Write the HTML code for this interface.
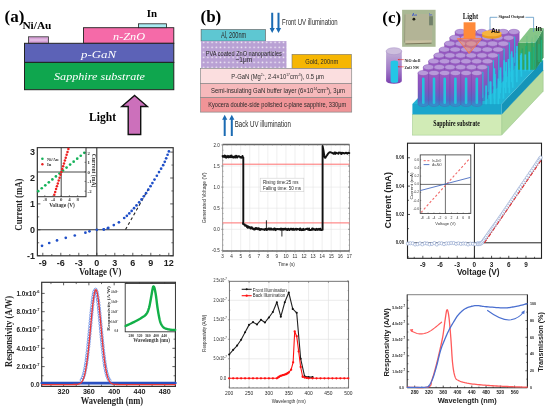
<!DOCTYPE html>
<html><head><meta charset="utf-8"><style>
html,body{margin:0;padding:0;background:#fff;}
svg{display:block;filter:blur(0.35px);}
</style></head><body>
<svg width="550" height="410" viewBox="0 0 550 410">
<rect width="550" height="410" fill="#fff"/>
<text x="4.5" y="22.1" font-family="Liberation Serif, serif" font-size="17" font-weight="bold" text-anchor="start" fill="#000">(a)</text><text x="22.4" y="29" font-family="Liberation Serif, serif" font-size="10" font-weight="bold" text-anchor="start" fill="#000" textLength="29" lengthAdjust="spacingAndGlyphs">Ni/Au</text><rect x="28.5" y="36.8" width="20" height="6.5" fill="#d8a2d8" stroke="#333" stroke-width="0.8"/><rect x="30" y="38.8" width="17" height="2.2" fill="#e2b8e2" stroke="none" stroke-width="1"/><rect x="83.5" y="27.7" width="90.3" height="15.6" fill="#f56aa8" stroke="#222" stroke-width="0.9"/><rect x="138.5" y="23.8" width="28" height="3.9" fill="#a9ecf2" stroke="#222" stroke-width="0.8"/><text x="146.8" y="16.6" font-family="Liberation Serif, serif" font-size="11" font-weight="bold" text-anchor="start" fill="#000" textLength="10.3" lengthAdjust="spacingAndGlyphs">In</text><rect x="24.5" y="43.3" width="149.3" height="19.1" fill="#5c62b7" stroke="#222" stroke-width="1"/><rect x="24.5" y="62.4" width="149.3" height="27.3" fill="#0fa64e" stroke="#222" stroke-width="1"/><text x="129" y="40" font-family="Liberation Serif, serif" font-size="11" font-style="italic" text-anchor="middle" fill="#fff" textLength="32" lengthAdjust="spacingAndGlyphs">n-ZnO</text><text x="98.5" y="57.5" font-family="Liberation Serif, serif" font-size="11" font-style="italic" text-anchor="middle" fill="#fff" textLength="35" lengthAdjust="spacingAndGlyphs">p-GaN</text><text x="99.5" y="80" font-family="Liberation Serif, serif" font-size="11" font-style="italic" text-anchor="middle" fill="#fff" textLength="91" lengthAdjust="spacingAndGlyphs">Sapphire substrate</text><polygon points="134.6,95.5 147.4,106.5 140.7,106.5 140.7,134.5 128.2,134.5 128.2,106.5 121.8,106.5" fill="#cc70bb" stroke="#111" stroke-width="1.4"/><text x="89" y="120.6" font-family="Liberation Serif, serif" font-size="12" font-weight="bold" text-anchor="start" fill="#000" textLength="27" lengthAdjust="spacingAndGlyphs">Light</text><rect x="37.4" y="147.7" width="135.79999999999998" height="108.10000000000002" fill="none" stroke="#333" stroke-width="1.2"/><line x1="37.40" y1="229.80" x2="173.20" y2="229.80" stroke="#333" stroke-width="1.1"/><line x1="96.80" y1="147.70" x2="96.80" y2="255.80" stroke="#333" stroke-width="1.1"/><line x1="42.80" y1="255.80" x2="42.80" y2="252.80" stroke="#333" stroke-width="0.8"/><line x1="60.80" y1="255.80" x2="60.80" y2="252.80" stroke="#333" stroke-width="0.8"/><line x1="78.80" y1="255.80" x2="78.80" y2="252.80" stroke="#333" stroke-width="0.8"/><line x1="96.80" y1="255.80" x2="96.80" y2="252.80" stroke="#333" stroke-width="0.8"/><line x1="114.80" y1="255.80" x2="114.80" y2="252.80" stroke="#333" stroke-width="0.8"/><line x1="132.80" y1="255.80" x2="132.80" y2="252.80" stroke="#333" stroke-width="0.8"/><line x1="150.80" y1="255.80" x2="150.80" y2="252.80" stroke="#333" stroke-width="0.8"/><line x1="168.80" y1="255.80" x2="168.80" y2="252.80" stroke="#333" stroke-width="0.8"/><line x1="51.80" y1="255.80" x2="51.80" y2="254.00" stroke="#333" stroke-width="0.7"/><line x1="69.80" y1="255.80" x2="69.80" y2="254.00" stroke="#333" stroke-width="0.7"/><line x1="87.80" y1="255.80" x2="87.80" y2="254.00" stroke="#333" stroke-width="0.7"/><line x1="105.80" y1="255.80" x2="105.80" y2="254.00" stroke="#333" stroke-width="0.7"/><line x1="123.80" y1="255.80" x2="123.80" y2="254.00" stroke="#333" stroke-width="0.7"/><line x1="141.80" y1="255.80" x2="141.80" y2="254.00" stroke="#333" stroke-width="0.7"/><line x1="159.80" y1="255.80" x2="159.80" y2="254.00" stroke="#333" stroke-width="0.7"/><line x1="37.40" y1="255.70" x2="40.40" y2="255.70" stroke="#333" stroke-width="0.8"/><line x1="173.20" y1="255.70" x2="170.20" y2="255.70" stroke="#333" stroke-width="0.8"/><line x1="37.40" y1="229.80" x2="40.40" y2="229.80" stroke="#333" stroke-width="0.8"/><line x1="173.20" y1="229.80" x2="170.20" y2="229.80" stroke="#333" stroke-width="0.8"/><line x1="37.40" y1="203.90" x2="40.40" y2="203.90" stroke="#333" stroke-width="0.8"/><line x1="173.20" y1="203.90" x2="170.20" y2="203.90" stroke="#333" stroke-width="0.8"/><line x1="37.40" y1="178.00" x2="40.40" y2="178.00" stroke="#333" stroke-width="0.8"/><line x1="173.20" y1="178.00" x2="170.20" y2="178.00" stroke="#333" stroke-width="0.8"/><line x1="37.40" y1="152.10" x2="40.40" y2="152.10" stroke="#333" stroke-width="0.8"/><line x1="173.20" y1="152.10" x2="170.20" y2="152.10" stroke="#333" stroke-width="0.8"/><line x1="37.40" y1="242.75" x2="39.20" y2="242.75" stroke="#333" stroke-width="0.7"/><line x1="173.20" y1="242.75" x2="171.40" y2="242.75" stroke="#333" stroke-width="0.7"/><line x1="37.40" y1="216.85" x2="39.20" y2="216.85" stroke="#333" stroke-width="0.7"/><line x1="173.20" y1="216.85" x2="171.40" y2="216.85" stroke="#333" stroke-width="0.7"/><line x1="37.40" y1="190.95" x2="39.20" y2="190.95" stroke="#333" stroke-width="0.7"/><line x1="173.20" y1="190.95" x2="171.40" y2="190.95" stroke="#333" stroke-width="0.7"/><line x1="37.40" y1="165.05" x2="39.20" y2="165.05" stroke="#333" stroke-width="0.7"/><line x1="173.20" y1="165.05" x2="171.40" y2="165.05" stroke="#333" stroke-width="0.7"/><text x="35" y="155.3" font-family="Liberation Sans, sans-serif" font-size="9" font-weight="bold" text-anchor="end" fill="#222">3</text><text x="35" y="181.2" font-family="Liberation Sans, sans-serif" font-size="9" font-weight="bold" text-anchor="end" fill="#222">2</text><text x="35" y="207.1" font-family="Liberation Sans, sans-serif" font-size="9" font-weight="bold" text-anchor="end" fill="#222">1</text><text x="35" y="233.0" font-family="Liberation Sans, sans-serif" font-size="9" font-weight="bold" text-anchor="end" fill="#222">0</text><text x="35" y="258.90000000000003" font-family="Liberation Sans, sans-serif" font-size="9" font-weight="bold" text-anchor="end" fill="#222">-1</text><text x="42.8" y="265.8" font-family="Liberation Sans, sans-serif" font-size="9" font-weight="bold" text-anchor="middle" fill="#222">-9</text><text x="60.8" y="265.8" font-family="Liberation Sans, sans-serif" font-size="9" font-weight="bold" text-anchor="middle" fill="#222">-6</text><text x="78.8" y="265.8" font-family="Liberation Sans, sans-serif" font-size="9" font-weight="bold" text-anchor="middle" fill="#222">-3</text><text x="96.8" y="265.8" font-family="Liberation Sans, sans-serif" font-size="9" font-weight="bold" text-anchor="middle" fill="#222">0</text><text x="114.8" y="265.8" font-family="Liberation Sans, sans-serif" font-size="9" font-weight="bold" text-anchor="middle" fill="#222">3</text><text x="132.8" y="265.8" font-family="Liberation Sans, sans-serif" font-size="9" font-weight="bold" text-anchor="middle" fill="#222">6</text><text x="150.8" y="265.8" font-family="Liberation Sans, sans-serif" font-size="9" font-weight="bold" text-anchor="middle" fill="#222">9</text><text x="168.8" y="265.8" font-family="Liberation Sans, sans-serif" font-size="9" font-weight="bold" text-anchor="middle" fill="#222">12</text><text x="100.2" y="275.3" font-family="Liberation Serif, serif" font-size="10" font-weight="bold" text-anchor="middle" fill="#222" textLength="42.4" lengthAdjust="spacingAndGlyphs">Voltage (V)</text><text x="22" y="204.6" font-family="Liberation Serif, serif" font-size="10.3" font-weight="bold" text-anchor="middle" fill="#222" textLength="52.2" lengthAdjust="spacingAndGlyphs" transform="rotate(-90 22 204.6)">Current (mA)</text><line x1="125.50" y1="229.60" x2="150.00" y2="186.20" stroke="#222" stroke-width="1.1" stroke-dasharray="3,2.5"/><circle cx="42.02" cy="245.86" r="1.35" fill="#1f4fc8" stroke="none" stroke-width="1"/><circle cx="49.22" cy="243.01" r="1.35" fill="#1f4fc8" stroke="none" stroke-width="1"/><circle cx="57.02" cy="240.42" r="1.35" fill="#1f4fc8" stroke="none" stroke-width="1"/><circle cx="65.78" cy="237.83" r="1.35" fill="#1f4fc8" stroke="none" stroke-width="1"/><circle cx="74.78" cy="235.50" r="1.35" fill="#1f4fc8" stroke="none" stroke-width="1"/><circle cx="85.40" cy="232.65" r="1.35" fill="#1f4fc8" stroke="none" stroke-width="1"/><circle cx="89.48" cy="231.35" r="1.35" fill="#1f4fc8" stroke="none" stroke-width="1"/><circle cx="96.80" cy="229.80" r="1.35" fill="#1f4fc8" stroke="none" stroke-width="1"/><circle cx="103.70" cy="229.28" r="1.35" fill="#1f4fc8" stroke="none" stroke-width="1"/><circle cx="107.90" cy="228.25" r="1.35" fill="#1f4fc8" stroke="none" stroke-width="1"/><circle cx="103.90" cy="229.50" r="1.35" fill="#1f4fc8" stroke="none" stroke-width="1"/><circle cx="108.20" cy="227.80" r="1.35" fill="#1f4fc8" stroke="none" stroke-width="1"/><circle cx="113.80" cy="225.10" r="1.35" fill="#1f4fc8" stroke="none" stroke-width="1"/><circle cx="118.90" cy="222.30" r="1.35" fill="#1f4fc8" stroke="none" stroke-width="1"/><circle cx="124.20" cy="218.00" r="1.35" fill="#1f4fc8" stroke="none" stroke-width="1"/><circle cx="126.85" cy="215.83" r="1.35" fill="#1f4fc8" stroke="none" stroke-width="1"/><circle cx="129.30" cy="213.44" r="1.35" fill="#1f4fc8" stroke="none" stroke-width="1"/><circle cx="131.65" cy="210.88" r="1.35" fill="#1f4fc8" stroke="none" stroke-width="1"/><circle cx="134.05" cy="208.18" r="1.35" fill="#1f4fc8" stroke="none" stroke-width="1"/><circle cx="136.50" cy="205.40" r="1.35" fill="#1f4fc8" stroke="none" stroke-width="1"/><circle cx="139.16" cy="202.31" r="1.35" fill="#1f4fc8" stroke="none" stroke-width="1"/><circle cx="141.54" cy="199.40" r="1.35" fill="#1f4fc8" stroke="none" stroke-width="1"/><circle cx="143.80" cy="196.36" r="1.35" fill="#1f4fc8" stroke="none" stroke-width="1"/><circle cx="146.05" cy="193.13" r="1.35" fill="#1f4fc8" stroke="none" stroke-width="1"/><circle cx="148.30" cy="189.72" r="1.35" fill="#1f4fc8" stroke="none" stroke-width="1"/><circle cx="150.53" cy="186.18" r="1.35" fill="#1f4fc8" stroke="none" stroke-width="1"/><circle cx="152.40" cy="183.11" r="1.35" fill="#1f4fc8" stroke="none" stroke-width="1"/><circle cx="154.52" cy="179.62" r="1.35" fill="#1f4fc8" stroke="none" stroke-width="1"/><circle cx="156.85" cy="175.75" r="1.35" fill="#1f4fc8" stroke="none" stroke-width="1"/><circle cx="159.02" cy="172.10" r="1.35" fill="#1f4fc8" stroke="none" stroke-width="1"/><circle cx="161.11" cy="168.69" r="1.35" fill="#1f4fc8" stroke="none" stroke-width="1"/><circle cx="163.16" cy="165.20" r="1.35" fill="#1f4fc8" stroke="none" stroke-width="1"/><circle cx="164.76" cy="161.78" r="1.35" fill="#1f4fc8" stroke="none" stroke-width="1"/><circle cx="166.19" cy="158.29" r="1.35" fill="#1f4fc8" stroke="none" stroke-width="1"/><circle cx="167.58" cy="154.76" r="1.35" fill="#1f4fc8" stroke="none" stroke-width="1"/><circle cx="168.90" cy="151.40" r="1.35" fill="#1f4fc8" stroke="none" stroke-width="1"/><rect x="37.4" y="147.7" width="48.6" height="49.0" fill="#fff" stroke="#333" stroke-width="1"/><line x1="37.40" y1="172.00" x2="86.00" y2="172.00" stroke="#333" stroke-width="0.9"/><line x1="61.20" y1="147.70" x2="61.20" y2="196.70" stroke="#333" stroke-width="0.9"/><circle cx="38.20" cy="191.20" r="1.35" fill="#16b25a" stroke="none" stroke-width="1"/><circle cx="41.75" cy="188.25" r="1.35" fill="#16b25a" stroke="none" stroke-width="1"/><circle cx="45.29" cy="185.29" r="1.35" fill="#16b25a" stroke="none" stroke-width="1"/><circle cx="48.84" cy="182.34" r="1.35" fill="#16b25a" stroke="none" stroke-width="1"/><circle cx="52.38" cy="179.38" r="1.35" fill="#16b25a" stroke="none" stroke-width="1"/><circle cx="55.93" cy="176.43" r="1.35" fill="#16b25a" stroke="none" stroke-width="1"/><circle cx="59.48" cy="173.48" r="1.35" fill="#16b25a" stroke="none" stroke-width="1"/><circle cx="63.02" cy="170.52" r="1.35" fill="#16b25a" stroke="none" stroke-width="1"/><circle cx="66.57" cy="167.57" r="1.35" fill="#16b25a" stroke="none" stroke-width="1"/><circle cx="70.12" cy="164.62" r="1.35" fill="#16b25a" stroke="none" stroke-width="1"/><circle cx="73.66" cy="161.66" r="1.35" fill="#16b25a" stroke="none" stroke-width="1"/><circle cx="77.21" cy="158.71" r="1.35" fill="#16b25a" stroke="none" stroke-width="1"/><circle cx="80.75" cy="155.75" r="1.35" fill="#16b25a" stroke="none" stroke-width="1"/><circle cx="84.30" cy="152.80" r="1.35" fill="#16b25a" stroke="none" stroke-width="1"/><circle cx="54.30" cy="194.80" r="1.25" fill="#ee2020" stroke="none" stroke-width="1"/><circle cx="55.18" cy="191.94" r="1.25" fill="#ee2020" stroke="none" stroke-width="1"/><circle cx="56.06" cy="189.09" r="1.25" fill="#ee2020" stroke="none" stroke-width="1"/><circle cx="56.94" cy="186.23" r="1.25" fill="#ee2020" stroke="none" stroke-width="1"/><circle cx="57.83" cy="183.38" r="1.25" fill="#ee2020" stroke="none" stroke-width="1"/><circle cx="58.71" cy="180.52" r="1.25" fill="#ee2020" stroke="none" stroke-width="1"/><circle cx="59.59" cy="177.66" r="1.25" fill="#ee2020" stroke="none" stroke-width="1"/><circle cx="60.47" cy="174.81" r="1.25" fill="#ee2020" stroke="none" stroke-width="1"/><circle cx="61.35" cy="171.95" r="1.25" fill="#ee2020" stroke="none" stroke-width="1"/><circle cx="62.23" cy="169.09" r="1.25" fill="#ee2020" stroke="none" stroke-width="1"/><circle cx="63.11" cy="166.24" r="1.25" fill="#ee2020" stroke="none" stroke-width="1"/><circle cx="63.99" cy="163.38" r="1.25" fill="#ee2020" stroke="none" stroke-width="1"/><circle cx="64.88" cy="160.53" r="1.25" fill="#ee2020" stroke="none" stroke-width="1"/><circle cx="65.76" cy="157.67" r="1.25" fill="#ee2020" stroke="none" stroke-width="1"/><circle cx="66.64" cy="154.81" r="1.25" fill="#ee2020" stroke="none" stroke-width="1"/><circle cx="67.52" cy="151.96" r="1.25" fill="#ee2020" stroke="none" stroke-width="1"/><circle cx="68.40" cy="149.10" r="1.25" fill="#ee2020" stroke="none" stroke-width="1"/><circle cx="42.40" cy="158.80" r="1.3" fill="#16b25a" stroke="none" stroke-width="1"/><circle cx="42.40" cy="164.30" r="1.2" fill="#e82222" stroke="none" stroke-width="1"/><text x="47" y="160.5" font-family="Liberation Serif, serif" font-size="4.5" font-weight="bold" text-anchor="start" fill="#333">Ni/Au</text><text x="47" y="166" font-family="Liberation Serif, serif" font-size="4.5" font-weight="bold" text-anchor="start" fill="#333">In</text><text x="87.6" y="154.5" font-family="Liberation Serif, serif" font-size="4.8" font-weight="bold" text-anchor="start" fill="#333">2</text><line x1="86.00" y1="152.80" x2="84.50" y2="152.80" stroke="#333" stroke-width="0.6"/><text x="87.6" y="164.0" font-family="Liberation Serif, serif" font-size="4.8" font-weight="bold" text-anchor="start" fill="#333">1</text><line x1="86.00" y1="162.30" x2="84.50" y2="162.30" stroke="#333" stroke-width="0.6"/><text x="87.6" y="173.6" font-family="Liberation Serif, serif" font-size="4.8" font-weight="bold" text-anchor="start" fill="#333">0</text><line x1="86.00" y1="171.90" x2="84.50" y2="171.90" stroke="#333" stroke-width="0.6"/><text x="87.6" y="183.1" font-family="Liberation Serif, serif" font-size="4.8" font-weight="bold" text-anchor="start" fill="#333">-1</text><line x1="86.00" y1="181.40" x2="84.50" y2="181.40" stroke="#333" stroke-width="0.6"/><text x="87.6" y="192.89999999999998" font-family="Liberation Serif, serif" font-size="4.8" font-weight="bold" text-anchor="start" fill="#333">-2</text><line x1="86.00" y1="191.20" x2="84.50" y2="191.20" stroke="#333" stroke-width="0.6"/><text x="44.8" y="201" font-family="Liberation Serif, serif" font-size="4.8" font-weight="bold" text-anchor="middle" fill="#333">-8</text><line x1="44.80" y1="196.70" x2="44.80" y2="195.20" stroke="#333" stroke-width="0.6"/><text x="53" y="201" font-family="Liberation Serif, serif" font-size="4.8" font-weight="bold" text-anchor="middle" fill="#333">-4</text><line x1="53.00" y1="196.70" x2="53.00" y2="195.20" stroke="#333" stroke-width="0.6"/><text x="61.2" y="201" font-family="Liberation Serif, serif" font-size="4.8" font-weight="bold" text-anchor="middle" fill="#333">0</text><line x1="61.20" y1="196.70" x2="61.20" y2="195.20" stroke="#333" stroke-width="0.6"/><text x="69.4" y="201" font-family="Liberation Serif, serif" font-size="4.8" font-weight="bold" text-anchor="middle" fill="#333">4</text><line x1="69.40" y1="196.70" x2="69.40" y2="195.20" stroke="#333" stroke-width="0.6"/><text x="77.6" y="201" font-family="Liberation Serif, serif" font-size="4.8" font-weight="bold" text-anchor="middle" fill="#333">8</text><line x1="77.60" y1="196.70" x2="77.60" y2="195.20" stroke="#333" stroke-width="0.6"/><text x="62" y="207.4" font-family="Liberation Serif, serif" font-size="6" font-weight="bold" text-anchor="middle" fill="#333" textLength="25.6" lengthAdjust="spacingAndGlyphs">Voltage (V)</text><text x="91.6" y="170.6" font-family="Liberation Serif, serif" font-size="5.6" font-weight="bold" text-anchor="middle" fill="#333" textLength="33.5" lengthAdjust="spacingAndGlyphs" transform="rotate(90 91.6 170.6)">Current (mA)</text><rect x="41.7" y="282.3" width="133.7" height="104.09999999999997" fill="none" stroke="#333" stroke-width="1.2"/><line x1="63.60" y1="386.40" x2="63.60" y2="383.40" stroke="#333" stroke-width="0.8"/><line x1="63.60" y1="282.30" x2="63.60" y2="285.30" stroke="#333" stroke-width="0.8"/><line x1="88.88" y1="386.40" x2="88.88" y2="383.40" stroke="#333" stroke-width="0.8"/><line x1="88.88" y1="282.30" x2="88.88" y2="285.30" stroke="#333" stroke-width="0.8"/><line x1="114.16" y1="386.40" x2="114.16" y2="383.40" stroke="#333" stroke-width="0.8"/><line x1="114.16" y1="282.30" x2="114.16" y2="285.30" stroke="#333" stroke-width="0.8"/><line x1="139.44" y1="386.40" x2="139.44" y2="383.40" stroke="#333" stroke-width="0.8"/><line x1="139.44" y1="282.30" x2="139.44" y2="285.30" stroke="#333" stroke-width="0.8"/><line x1="164.72" y1="386.40" x2="164.72" y2="383.40" stroke="#333" stroke-width="0.8"/><line x1="164.72" y1="282.30" x2="164.72" y2="285.30" stroke="#333" stroke-width="0.8"/><line x1="50.96" y1="386.40" x2="50.96" y2="384.60" stroke="#333" stroke-width="0.7"/><line x1="50.96" y1="282.30" x2="50.96" y2="284.10" stroke="#333" stroke-width="0.7"/><line x1="76.24" y1="386.40" x2="76.24" y2="384.60" stroke="#333" stroke-width="0.7"/><line x1="76.24" y1="282.30" x2="76.24" y2="284.10" stroke="#333" stroke-width="0.7"/><line x1="101.52" y1="386.40" x2="101.52" y2="384.60" stroke="#333" stroke-width="0.7"/><line x1="101.52" y1="282.30" x2="101.52" y2="284.10" stroke="#333" stroke-width="0.7"/><line x1="126.80" y1="386.40" x2="126.80" y2="384.60" stroke="#333" stroke-width="0.7"/><line x1="126.80" y1="282.30" x2="126.80" y2="284.10" stroke="#333" stroke-width="0.7"/><line x1="152.08" y1="386.40" x2="152.08" y2="384.60" stroke="#333" stroke-width="0.7"/><line x1="152.08" y1="282.30" x2="152.08" y2="284.10" stroke="#333" stroke-width="0.7"/><text x="63.6" y="394.1" font-family="Liberation Sans, sans-serif" font-size="7.2" font-weight="bold" text-anchor="middle" fill="#222">320</text><text x="88.88" y="394.1" font-family="Liberation Sans, sans-serif" font-size="7.2" font-weight="bold" text-anchor="middle" fill="#222">360</text><text x="114.16" y="394.1" font-family="Liberation Sans, sans-serif" font-size="7.2" font-weight="bold" text-anchor="middle" fill="#222">400</text><text x="139.44" y="394.1" font-family="Liberation Sans, sans-serif" font-size="7.2" font-weight="bold" text-anchor="middle" fill="#222">440</text><text x="164.72" y="394.1" font-family="Liberation Sans, sans-serif" font-size="7.2" font-weight="bold" text-anchor="middle" fill="#222">480</text><text x="39.5" y="295.7" font-family="Liberation Sans, sans-serif" font-size="6.4" font-weight="bold" text-anchor="end" fill="#222">1.0x10<tspan font-size="4" dy="-3">-6</tspan></text><line x1="41.70" y1="293.40" x2="44.70" y2="293.40" stroke="#333" stroke-width="0.8"/><line x1="175.40" y1="293.40" x2="172.40" y2="293.40" stroke="#333" stroke-width="0.8"/><line x1="41.70" y1="302.55" x2="43.50" y2="302.55" stroke="#333" stroke-width="0.7"/><line x1="175.40" y1="302.55" x2="173.60" y2="302.55" stroke="#333" stroke-width="0.7"/><text x="39.5" y="314.0" font-family="Liberation Sans, sans-serif" font-size="6.4" font-weight="bold" text-anchor="end" fill="#222">8.0x10<tspan font-size="4" dy="-3">-7</tspan></text><line x1="41.70" y1="311.70" x2="44.70" y2="311.70" stroke="#333" stroke-width="0.8"/><line x1="175.40" y1="311.70" x2="172.40" y2="311.70" stroke="#333" stroke-width="0.8"/><line x1="41.70" y1="320.85" x2="43.50" y2="320.85" stroke="#333" stroke-width="0.7"/><line x1="175.40" y1="320.85" x2="173.60" y2="320.85" stroke="#333" stroke-width="0.7"/><text x="39.5" y="332.3" font-family="Liberation Sans, sans-serif" font-size="6.4" font-weight="bold" text-anchor="end" fill="#222">6.0x10<tspan font-size="4" dy="-3">-7</tspan></text><line x1="41.70" y1="330.00" x2="44.70" y2="330.00" stroke="#333" stroke-width="0.8"/><line x1="175.40" y1="330.00" x2="172.40" y2="330.00" stroke="#333" stroke-width="0.8"/><line x1="41.70" y1="339.15" x2="43.50" y2="339.15" stroke="#333" stroke-width="0.7"/><line x1="175.40" y1="339.15" x2="173.60" y2="339.15" stroke="#333" stroke-width="0.7"/><text x="39.5" y="350.59999999999997" font-family="Liberation Sans, sans-serif" font-size="6.4" font-weight="bold" text-anchor="end" fill="#222">4.0x10<tspan font-size="4" dy="-3">-7</tspan></text><line x1="41.70" y1="348.30" x2="44.70" y2="348.30" stroke="#333" stroke-width="0.8"/><line x1="175.40" y1="348.30" x2="172.40" y2="348.30" stroke="#333" stroke-width="0.8"/><line x1="41.70" y1="357.45" x2="43.50" y2="357.45" stroke="#333" stroke-width="0.7"/><line x1="175.40" y1="357.45" x2="173.60" y2="357.45" stroke="#333" stroke-width="0.7"/><text x="39.5" y="368.9" font-family="Liberation Sans, sans-serif" font-size="6.4" font-weight="bold" text-anchor="end" fill="#222">2.0x10<tspan font-size="4" dy="-3">-7</tspan></text><line x1="41.70" y1="366.60" x2="44.70" y2="366.60" stroke="#333" stroke-width="0.8"/><line x1="175.40" y1="366.60" x2="172.40" y2="366.60" stroke="#333" stroke-width="0.8"/><line x1="41.70" y1="375.75" x2="43.50" y2="375.75" stroke="#333" stroke-width="0.7"/><line x1="175.40" y1="375.75" x2="173.60" y2="375.75" stroke="#333" stroke-width="0.7"/><text x="39.5" y="387.29999999999995" font-family="Liberation Sans, sans-serif" font-size="6.4" font-weight="bold" text-anchor="end" fill="#222">0.0</text><text x="111.9" y="404.3" font-family="Liberation Serif, serif" font-size="10" font-weight="bold" text-anchor="middle" fill="#222" textLength="62.5" lengthAdjust="spacingAndGlyphs">Wavelength (nm)</text><text x="12.3" y="331.4" font-family="Liberation Serif, serif" font-size="11" font-weight="bold" text-anchor="middle" fill="#222" textLength="71" lengthAdjust="spacingAndGlyphs" transform="rotate(-90 12.3 331.4)">Responsivity (A/W)</text><polyline points="41.70,383.10 175.40,383.10" fill="none" stroke="#2a50c0" stroke-width="2.6" stroke-linejoin="round" stroke-linecap="round"/><circle cx="81.74" cy="380.01" r="1.6" fill="none" stroke="#5a80e0" stroke-width="0.75"/><circle cx="82.88" cy="377.80" r="1.6" fill="none" stroke="#5a80e0" stroke-width="0.75"/><circle cx="83.70" cy="375.49" r="1.6" fill="none" stroke="#5a80e0" stroke-width="0.75"/><circle cx="84.39" cy="372.96" r="1.6" fill="none" stroke="#5a80e0" stroke-width="0.75"/><circle cx="84.96" cy="370.44" r="1.6" fill="none" stroke="#5a80e0" stroke-width="0.75"/><circle cx="85.47" cy="367.82" r="1.6" fill="none" stroke="#5a80e0" stroke-width="0.75"/><circle cx="85.91" cy="365.23" r="1.6" fill="none" stroke="#5a80e0" stroke-width="0.75"/><circle cx="86.29" cy="362.78" r="1.6" fill="none" stroke="#5a80e0" stroke-width="0.75"/><circle cx="86.67" cy="360.11" r="1.6" fill="none" stroke="#5a80e0" stroke-width="0.75"/><circle cx="86.98" cy="357.72" r="1.6" fill="none" stroke="#5a80e0" stroke-width="0.75"/><circle cx="87.30" cy="355.18" r="1.6" fill="none" stroke="#5a80e0" stroke-width="0.75"/><circle cx="87.62" cy="352.50" r="1.6" fill="none" stroke="#5a80e0" stroke-width="0.75"/><circle cx="87.93" cy="349.68" r="1.6" fill="none" stroke="#5a80e0" stroke-width="0.75"/><circle cx="88.25" cy="346.73" r="1.6" fill="none" stroke="#5a80e0" stroke-width="0.75"/><circle cx="88.50" cy="344.29" r="1.6" fill="none" stroke="#5a80e0" stroke-width="0.75"/><circle cx="88.75" cy="341.78" r="1.6" fill="none" stroke="#5a80e0" stroke-width="0.75"/><circle cx="89.01" cy="339.21" r="1.6" fill="none" stroke="#5a80e0" stroke-width="0.75"/><circle cx="89.26" cy="336.59" r="1.6" fill="none" stroke="#5a80e0" stroke-width="0.75"/><circle cx="89.51" cy="333.92" r="1.6" fill="none" stroke="#5a80e0" stroke-width="0.75"/><circle cx="89.76" cy="331.23" r="1.6" fill="none" stroke="#5a80e0" stroke-width="0.75"/><circle cx="90.02" cy="328.51" r="1.6" fill="none" stroke="#5a80e0" stroke-width="0.75"/><circle cx="90.27" cy="325.78" r="1.6" fill="none" stroke="#5a80e0" stroke-width="0.75"/><circle cx="90.52" cy="323.06" r="1.6" fill="none" stroke="#5a80e0" stroke-width="0.75"/><circle cx="90.78" cy="320.35" r="1.6" fill="none" stroke="#5a80e0" stroke-width="0.75"/><circle cx="91.03" cy="317.67" r="1.6" fill="none" stroke="#5a80e0" stroke-width="0.75"/><circle cx="91.28" cy="315.04" r="1.6" fill="none" stroke="#5a80e0" stroke-width="0.75"/><circle cx="91.53" cy="312.46" r="1.6" fill="none" stroke="#5a80e0" stroke-width="0.75"/><circle cx="91.79" cy="309.96" r="1.6" fill="none" stroke="#5a80e0" stroke-width="0.75"/><circle cx="92.04" cy="307.54" r="1.6" fill="none" stroke="#5a80e0" stroke-width="0.75"/><circle cx="92.36" cy="304.67" r="1.6" fill="none" stroke="#5a80e0" stroke-width="0.75"/><circle cx="92.67" cy="301.97" r="1.6" fill="none" stroke="#5a80e0" stroke-width="0.75"/><circle cx="92.99" cy="299.49" r="1.6" fill="none" stroke="#5a80e0" stroke-width="0.75"/><circle cx="93.37" cy="296.83" r="1.6" fill="none" stroke="#5a80e0" stroke-width="0.75"/><circle cx="93.81" cy="294.21" r="1.6" fill="none" stroke="#5a80e0" stroke-width="0.75"/><circle cx="94.38" cy="291.68" r="1.6" fill="none" stroke="#5a80e0" stroke-width="0.75"/><circle cx="95.58" cy="289.77" r="1.6" fill="none" stroke="#5a80e0" stroke-width="0.75"/><circle cx="96.59" cy="291.91" r="1.6" fill="none" stroke="#5a80e0" stroke-width="0.75"/><circle cx="97.16" cy="294.55" r="1.6" fill="none" stroke="#5a80e0" stroke-width="0.75"/><circle cx="97.60" cy="297.25" r="1.6" fill="none" stroke="#5a80e0" stroke-width="0.75"/><circle cx="97.98" cy="299.97" r="1.6" fill="none" stroke="#5a80e0" stroke-width="0.75"/><circle cx="98.30" cy="302.50" r="1.6" fill="none" stroke="#5a80e0" stroke-width="0.75"/><circle cx="98.61" cy="305.23" r="1.6" fill="none" stroke="#5a80e0" stroke-width="0.75"/><circle cx="98.93" cy="308.14" r="1.6" fill="none" stroke="#5a80e0" stroke-width="0.75"/><circle cx="99.18" cy="310.58" r="1.6" fill="none" stroke="#5a80e0" stroke-width="0.75"/><circle cx="99.43" cy="313.10" r="1.6" fill="none" stroke="#5a80e0" stroke-width="0.75"/><circle cx="99.69" cy="315.69" r="1.6" fill="none" stroke="#5a80e0" stroke-width="0.75"/><circle cx="99.94" cy="318.34" r="1.6" fill="none" stroke="#5a80e0" stroke-width="0.75"/><circle cx="100.19" cy="321.02" r="1.6" fill="none" stroke="#5a80e0" stroke-width="0.75"/><circle cx="100.45" cy="323.74" r="1.6" fill="none" stroke="#5a80e0" stroke-width="0.75"/><circle cx="100.70" cy="326.46" r="1.6" fill="none" stroke="#5a80e0" stroke-width="0.75"/><circle cx="100.95" cy="329.19" r="1.6" fill="none" stroke="#5a80e0" stroke-width="0.75"/><circle cx="101.20" cy="331.90" r="1.6" fill="none" stroke="#5a80e0" stroke-width="0.75"/><circle cx="101.46" cy="334.59" r="1.6" fill="none" stroke="#5a80e0" stroke-width="0.75"/><circle cx="101.71" cy="337.25" r="1.6" fill="none" stroke="#5a80e0" stroke-width="0.75"/><circle cx="101.96" cy="339.86" r="1.6" fill="none" stroke="#5a80e0" stroke-width="0.75"/><circle cx="102.22" cy="342.41" r="1.6" fill="none" stroke="#5a80e0" stroke-width="0.75"/><circle cx="102.47" cy="344.91" r="1.6" fill="none" stroke="#5a80e0" stroke-width="0.75"/><circle cx="102.72" cy="347.33" r="1.6" fill="none" stroke="#5a80e0" stroke-width="0.75"/><circle cx="103.04" cy="350.25" r="1.6" fill="none" stroke="#5a80e0" stroke-width="0.75"/><circle cx="103.35" cy="353.04" r="1.6" fill="none" stroke="#5a80e0" stroke-width="0.75"/><circle cx="103.67" cy="355.70" r="1.6" fill="none" stroke="#5a80e0" stroke-width="0.75"/><circle cx="103.98" cy="358.21" r="1.6" fill="none" stroke="#5a80e0" stroke-width="0.75"/><circle cx="104.36" cy="361.02" r="1.6" fill="none" stroke="#5a80e0" stroke-width="0.75"/><circle cx="104.74" cy="363.62" r="1.6" fill="none" stroke="#5a80e0" stroke-width="0.75"/><circle cx="105.12" cy="366.00" r="1.6" fill="none" stroke="#5a80e0" stroke-width="0.75"/><circle cx="105.56" cy="368.51" r="1.6" fill="none" stroke="#5a80e0" stroke-width="0.75"/><circle cx="106.07" cy="371.04" r="1.6" fill="none" stroke="#5a80e0" stroke-width="0.75"/><circle cx="106.64" cy="373.46" r="1.6" fill="none" stroke="#5a80e0" stroke-width="0.75"/><circle cx="107.33" cy="375.89" r="1.6" fill="none" stroke="#5a80e0" stroke-width="0.75"/><circle cx="108.22" cy="378.24" r="1.6" fill="none" stroke="#5a80e0" stroke-width="0.75"/><circle cx="109.42" cy="380.38" r="1.6" fill="none" stroke="#5a80e0" stroke-width="0.75"/><polyline points="42.11,384.53 42.43,384.53 42.74,384.53 43.06,384.53 43.38,384.53 43.69,384.53 44.01,384.53 44.32,384.53 44.64,384.53 44.96,384.53 45.27,384.53 45.59,384.53 45.90,384.53 46.22,384.53 46.54,384.53 46.85,384.53 47.17,384.53 47.48,384.53 47.80,384.53 48.12,384.53 48.43,384.53 48.75,384.53 49.06,384.53 49.38,384.53 49.70,384.53 50.01,384.53 50.33,384.53 50.64,384.53 50.96,384.53 51.28,384.53 51.59,384.53 51.91,384.53 52.22,384.53 52.54,384.53 52.86,384.53 53.17,384.53 53.49,384.53 53.80,384.53 54.12,384.53 54.44,384.53 54.75,384.53 55.07,384.53 55.38,384.53 55.70,384.53 56.02,384.53 56.33,384.53 56.65,384.53 56.96,384.53 57.28,384.53 57.60,384.53 57.91,384.53 58.23,384.53 58.54,384.53 58.86,384.53 59.18,384.53 59.49,384.53 59.81,384.53 60.12,384.53 60.44,384.53 60.76,384.53 61.07,384.53 61.39,384.53 61.70,384.53 62.02,384.53 62.34,384.53 62.65,384.53 62.97,384.53 63.28,384.53 63.60,384.53 63.92,384.53 64.23,384.53 64.55,384.53 64.86,384.53 65.18,384.53 65.50,384.53 65.81,384.53 66.13,384.53 66.44,384.53 66.76,384.53 67.08,384.53 67.39,384.53 67.71,384.53 68.02,384.53 68.34,384.53 68.66,384.53 68.97,384.53 69.29,384.53 69.60,384.53 69.92,384.53 70.24,384.53 70.55,384.53 70.87,384.53 71.18,384.53 71.50,384.53 71.82,384.53 72.13,384.53 72.45,384.53 72.76,384.53 73.08,384.53 73.40,384.52 73.71,384.52 74.03,384.52 74.34,384.51 74.66,384.51 74.98,384.50 75.29,384.49 75.61,384.48 75.92,384.46 76.24,384.45 76.56,384.42 76.87,384.40 77.19,384.36 77.50,384.32 77.82,384.27 78.14,384.21 78.45,384.14 78.77,384.06 79.08,383.95 79.40,383.83 79.72,383.69 80.03,383.52 80.35,383.32 80.66,383.08 80.98,382.81 81.30,382.50 81.61,382.13 81.93,381.71 82.24,381.22 82.56,380.67 82.88,380.05 83.19,379.33 83.51,378.53 83.82,377.63 84.14,376.63 84.46,375.51 84.77,374.27 85.09,372.90 85.40,371.39 85.72,369.75 86.04,367.96 86.35,366.02 86.67,363.93 86.98,361.68 87.30,359.28 87.62,356.73 87.93,354.04 88.25,351.20 88.56,348.23 88.88,345.14 89.20,341.95 89.51,338.66 89.83,335.30 90.14,331.88 90.46,328.42 90.78,324.96 91.09,321.51 91.41,318.11 91.72,314.77 92.04,311.54 92.36,308.43 92.67,305.47 92.99,302.70 93.30,300.13 93.62,297.80 93.94,295.73 94.25,293.94 94.57,292.45 94.88,291.28 95.20,290.43 95.52,289.91 95.83,289.74 96.15,289.91 96.46,290.43 96.78,291.28 97.10,292.45 97.41,293.94 97.73,295.73 98.04,297.80 98.36,300.13 98.68,302.70 98.99,305.47 99.31,308.43 99.62,311.54 99.94,314.77 100.26,318.11 100.57,321.51 100.89,324.96 101.20,328.42 101.52,331.88 101.84,335.30 102.15,338.66 102.47,341.95 102.78,345.14 103.10,348.23 103.42,351.20 103.73,354.04 104.05,356.73 104.36,359.28 104.68,361.68 105.00,363.93 105.31,366.02 105.63,367.96 105.94,369.75 106.26,371.39 106.58,372.90 106.89,374.27 107.21,375.51 107.52,376.63 107.84,377.63 108.16,378.53 108.47,379.33 108.79,380.05 109.10,380.67 109.42,381.22 109.74,381.71 110.05,382.13 110.37,382.50 110.68,382.81 111.00,383.08 111.32,383.32 111.63,383.52 111.95,383.69 112.26,383.83 112.58,383.95 112.90,384.06 113.21,384.14 113.53,384.21 113.84,384.27 114.16,384.32 114.48,384.36 114.79,384.40 115.11,384.42 115.42,384.45 115.74,384.46 116.06,384.48 116.37,384.49 116.69,384.50 117.00,384.51 117.32,384.51 117.64,384.52 117.95,384.52 118.27,384.52 118.58,384.53 118.90,384.53 119.22,384.53 119.53,384.53 119.85,384.53 120.16,384.53 120.48,384.53 120.80,384.53 121.11,384.53 121.43,384.53 121.74,384.53 122.06,384.53 122.38,384.53 122.69,384.53 123.01,384.53 123.32,384.53 123.64,384.53 123.96,384.53 124.27,384.53 124.59,384.53 124.90,384.53 125.22,384.53 125.54,384.53 125.85,384.53 126.17,384.53 126.48,384.53 126.80,384.53 127.12,384.53 127.43,384.53 127.75,384.53 128.06,384.53 128.38,384.53 128.70,384.53 129.01,384.53 129.33,384.53 129.64,384.53 129.96,384.53 130.28,384.53 130.59,384.53 130.91,384.53 131.22,384.53 131.54,384.53 131.86,384.53 132.17,384.53 132.49,384.53 132.80,384.53 133.12,384.53 133.44,384.53 133.75,384.53 134.07,384.53 134.38,384.53 134.70,384.53 135.02,384.53 135.33,384.53 135.65,384.53 135.96,384.53 136.28,384.53 136.60,384.53 136.91,384.53 137.23,384.53 137.54,384.53 137.86,384.53 138.18,384.53 138.49,384.53 138.81,384.53 139.12,384.53 139.44,384.53 139.76,384.53 140.07,384.53 140.39,384.53 140.70,384.53 141.02,384.53 141.34,384.53 141.65,384.53 141.97,384.53 142.28,384.53 142.60,384.53 142.92,384.53 143.23,384.53 143.55,384.53 143.86,384.53 144.18,384.53 144.50,384.53 144.81,384.53 145.13,384.53 145.44,384.53 145.76,384.53 146.08,384.53 146.39,384.53 146.71,384.53 147.02,384.53 147.34,384.53 147.66,384.53 147.97,384.53 148.29,384.53 148.60,384.53 148.92,384.53 149.24,384.53 149.55,384.53 149.87,384.53 150.18,384.53 150.50,384.53 150.82,384.53 151.13,384.53 151.45,384.53 151.76,384.53 152.08,384.53 152.40,384.53 152.71,384.53 153.03,384.53 153.34,384.53 153.66,384.53 153.98,384.53 154.29,384.53 154.61,384.53 154.92,384.53 155.24,384.53 155.56,384.53 155.87,384.53 156.19,384.53 156.50,384.53 156.82,384.53 157.14,384.53 157.45,384.53 157.77,384.53 158.08,384.53 158.40,384.53 158.72,384.53 159.03,384.53 159.35,384.53 159.66,384.53 159.98,384.53 160.30,384.53 160.61,384.53 160.93,384.53 161.24,384.53 161.56,384.53 161.88,384.53 162.19,384.53 162.51,384.53 162.82,384.53 163.14,384.53 163.46,384.53 163.77,384.53 164.09,384.53 164.40,384.53 164.72,384.53 165.04,384.53 165.35,384.53 165.67,384.53 165.98,384.53 166.30,384.53 166.62,384.53 166.93,384.53 167.25,384.53 167.56,384.53 167.88,384.53 168.20,384.53 168.51,384.53 168.83,384.53 169.14,384.53 169.46,384.53 169.78,384.53 170.09,384.53 170.41,384.53 170.72,384.53 171.04,384.53 171.36,384.53 171.67,384.53 171.99,384.53 172.30,384.53 172.62,384.53 172.94,384.53 173.25,384.53 173.57,384.53 173.88,384.53 174.20,384.53 174.52,384.53 174.83,384.53 175.15,384.53 175.46,384.53" fill="none" stroke="#ee3a3a" stroke-width="1.3" stroke-linejoin="round" stroke-linecap="round"/><rect x="125.2" y="283.5" width="50.2" height="48.30000000000001" fill="#fff" stroke="#333" stroke-width="0.9"/><polyline points="125.60,326.00 126.34,325.65 127.35,325.18 128.54,324.62 129.86,324.00 131.24,323.35 132.60,322.70 133.88,322.07 135.00,321.50 136.01,320.97 136.98,320.45 137.92,319.94 138.82,319.43 139.68,318.93 140.50,318.45 141.27,317.97 142.00,317.50 142.68,317.06 143.30,316.67 143.88,316.30 144.42,315.93 144.92,315.55 145.40,315.13 145.86,314.65 146.30,314.10 146.72,313.49 147.10,312.86 147.46,312.18 147.79,311.46 148.11,310.69 148.41,309.86 148.71,308.97 149.00,308.00 149.29,306.93 149.56,305.74 149.82,304.47 150.07,303.15 150.32,301.81 150.55,300.49 150.78,299.20 151.00,298.00 151.22,296.83 151.42,295.64 151.63,294.46 151.82,293.31 152.00,292.22 152.18,291.20 152.34,290.29 152.50,289.50 152.64,288.83 152.76,288.25 152.87,287.75 152.97,287.34 153.07,287.02 153.17,286.77 153.28,286.60 153.40,286.50 153.53,286.47 153.67,286.52 153.82,286.64 153.97,286.84 154.12,287.13 154.28,287.50 154.44,287.95 154.60,288.50 154.77,289.15 154.94,289.91 155.11,290.76 155.29,291.69 155.47,292.69 155.65,293.75 155.82,294.86 156.00,296.00 156.17,297.22 156.35,298.54 156.52,299.93 156.69,301.38 156.86,302.83 157.04,304.27 157.22,305.67 157.40,307.00 157.59,308.28 157.79,309.55 157.99,310.81 158.19,312.04 158.39,313.23 158.60,314.38 158.80,315.47 159.00,316.50 159.19,317.47 159.38,318.38 159.56,319.24 159.75,320.05 159.94,320.82 160.14,321.55 160.36,322.24 160.60,322.90 160.86,323.52 161.15,324.10 161.45,324.65 161.76,325.15 162.07,325.62 162.39,326.05 162.70,326.44 163.00,326.80 163.28,327.11 163.53,327.37 163.76,327.59 164.01,327.77 164.27,327.93 164.56,328.08 164.90,328.23 165.30,328.40 165.77,328.57 166.29,328.75 166.86,328.91 167.47,329.07 168.10,329.23 168.73,329.37 169.37,329.49 170.00,329.60 170.66,329.69 171.39,329.77 172.14,329.83 172.89,329.88 173.61,329.91 174.25,329.95 174.80,329.97 175.20,330.00" fill="none" stroke="#12b048" stroke-width="2.4" stroke-linejoin="round" stroke-linecap="round"/><text x="118.2" y="292.90000000000003" font-family="Liberation Serif, serif" font-size="3.2" font-weight="bold" text-anchor="end" fill="#333" textLength="7" lengthAdjust="spacingAndGlyphs">4.0x10<tspan font-size="2" dy="-1.3">-6</tspan></text><text x="118.2" y="302.8" font-family="Liberation Serif, serif" font-size="3.2" font-weight="bold" text-anchor="end" fill="#333" textLength="7" lengthAdjust="spacingAndGlyphs">3.0x10<tspan font-size="2" dy="-1.3">-6</tspan></text><text x="118.2" y="312.70000000000005" font-family="Liberation Serif, serif" font-size="3.2" font-weight="bold" text-anchor="end" fill="#333" textLength="7" lengthAdjust="spacingAndGlyphs">2.0x10<tspan font-size="2" dy="-1.3">-6</tspan></text><text x="118.2" y="322.6" font-family="Liberation Serif, serif" font-size="3.2" font-weight="bold" text-anchor="end" fill="#333" textLength="7" lengthAdjust="spacingAndGlyphs">1.0x10<tspan font-size="2" dy="-1.3">-6</tspan></text><text x="118.2" y="332.40000000000003" font-family="Liberation Serif, serif" font-size="3.2" font-weight="bold" text-anchor="end" fill="#333" textLength="3.6" lengthAdjust="spacingAndGlyphs">0.0</text><text x="131.4" y="336.5" font-family="Liberation Serif, serif" font-size="3.8" font-weight="bold" text-anchor="middle" fill="#333">280</text><text x="139.6" y="336.5" font-family="Liberation Serif, serif" font-size="3.8" font-weight="bold" text-anchor="middle" fill="#333">320</text><text x="147.8" y="336.5" font-family="Liberation Serif, serif" font-size="3.8" font-weight="bold" text-anchor="middle" fill="#333">360</text><text x="156" y="336.5" font-family="Liberation Serif, serif" font-size="3.8" font-weight="bold" text-anchor="middle" fill="#333">400</text><text x="164.2" y="336.5" font-family="Liberation Serif, serif" font-size="3.8" font-weight="bold" text-anchor="middle" fill="#333">440</text><text x="151.6" y="341.8" font-family="Liberation Serif, serif" font-size="5.5" font-weight="bold" text-anchor="middle" fill="#333" textLength="36.5" lengthAdjust="spacingAndGlyphs">Wavelength (nm)</text><text x="110.4" y="308.4" font-family="Liberation Serif, serif" font-size="5" font-weight="bold" text-anchor="middle" fill="#333" textLength="44.5" lengthAdjust="spacingAndGlyphs" transform="rotate(-90 110.4 308.4)">Responsivity (A/W)</text><text x="200.5" y="22.1" font-family="Liberation Serif, serif" font-size="17" font-weight="bold" text-anchor="start" fill="#000">(b)</text><polygon points="271.2,12.8 273.2,12.8 273.2,28 274.8,28 272.2,33 269.59999999999997,28 271.2,28" fill="#1b6bb3"/><polygon points="277.5,12.8 279.5,12.8 279.5,28 281.1,28 278.5,33 275.9,28 277.5,28" fill="#1b6bb3"/><text x="282" y="24.5" font-family="Liberation Sans, sans-serif" font-size="8.6" text-anchor="start" fill="#2a2a2a" textLength="55.7" lengthAdjust="spacingAndGlyphs">Front UV illumination</text><rect x="201.1" y="29.6" width="64.3" height="11.5" fill="#5ec7d2" stroke="#555" stroke-width="0.6"/><text x="233.6" y="38.2" font-family="Liberation Sans, sans-serif" font-size="8.2" text-anchor="middle" fill="#2a2a2a" textLength="25.2" lengthAdjust="spacingAndGlyphs">Al, 200nm</text><defs><pattern id="dots" x="201.6" y="39.8" width="4.2" height="5.0" patternUnits="userSpaceOnUse"><rect width="4.2" height="5.0" fill="#b9a1d4"/><circle cx="2.1" cy="2.5" r="0.85" fill="#f6f2fa"/></pattern></defs><rect x="201.1" y="41.1" width="85.4" height="27" fill="url(#dots)" stroke="none" stroke-width="1"/><text x="243.8" y="56" font-family="Liberation Sans, sans-serif" font-size="7" text-anchor="middle" fill="#2a2a2a" textLength="76" lengthAdjust="spacingAndGlyphs">PVA coated ZnO nanoparticles</text><text x="243.8" y="61.8" font-family="Liberation Sans, sans-serif" font-size="6.5" text-anchor="middle" fill="#2a2a2a">~1μm</text><rect x="292" y="54.3" width="59.4" height="14.3" fill="#f6b602" stroke="#777" stroke-width="0.6"/><text x="321.7" y="64.3" font-family="Liberation Sans, sans-serif" font-size="7" text-anchor="middle" fill="#2a2a2a" textLength="33" lengthAdjust="spacingAndGlyphs">Gold, 200nm</text><rect x="200.6" y="68.6" width="151.1" height="14.8" fill="#fbdedf" stroke="#888" stroke-width="0.7"/><rect x="200.6" y="83.4" width="151.1" height="14.1" fill="#f6b9bb" stroke="#888" stroke-width="0.7"/><rect x="200.6" y="97.5" width="151.1" height="14.6" fill="#f09497" stroke="#888" stroke-width="0.7"/><text x="277.6" y="78.6" font-family="Liberation Sans, sans-serif" font-size="7" text-anchor="middle" fill="#2a2a2a" textLength="92.6" lengthAdjust="spacingAndGlyphs">P-GaN (Mg<tspan font-size="4" dy="-2.5">2+</tspan><tspan dy="2.5">, 2-4×10</tspan><tspan font-size="4" dy="-2.5">17</tspan><tspan dy="2.5">cm</tspan><tspan font-size="4" dy="-2.5">-3</tspan><tspan dy="2.5">), 0.5 μm</tspan></text><text x="278" y="92.8" font-family="Liberation Sans, sans-serif" font-size="7" text-anchor="middle" fill="#2a2a2a" textLength="134" lengthAdjust="spacingAndGlyphs">Semi-insulating GaN buffer layer (6×10<tspan font-size="4" dy="-2.5">14</tspan><tspan dy="2.5">cm</tspan><tspan font-size="4" dy="-2.5">-3</tspan><tspan dy="2.5">), 3μm</tspan></text><text x="277.2" y="107.4" font-family="Liberation Sans, sans-serif" font-size="7" text-anchor="middle" fill="#2a2a2a" textLength="138" lengthAdjust="spacingAndGlyphs">Kyocera double-side polished c-plane sapphire, 330μm</text><polygon points="223.7,136 225.7,136 225.7,119.8 227.29999999999998,119.8 224.7,114.8 222.1,119.8 223.7,119.8" fill="#1b6bb3"/><polygon points="230.8,136 232.8,136 232.8,119.8 234.4,119.8 231.8,114.8 229.20000000000002,119.8 230.8,119.8" fill="#1b6bb3"/><text x="234.8" y="127.2" font-family="Liberation Sans, sans-serif" font-size="8.6" text-anchor="start" fill="#2a2a2a" textLength="56" lengthAdjust="spacingAndGlyphs">Back UV illumination</text><line x1="231.65" y1="144.50" x2="231.65" y2="251.00" stroke="#e4e4e4" stroke-width="0.6"/><line x1="240.70" y1="144.50" x2="240.70" y2="251.00" stroke="#e4e4e4" stroke-width="0.6"/><line x1="249.75" y1="144.50" x2="249.75" y2="251.00" stroke="#e4e4e4" stroke-width="0.6"/><line x1="258.80" y1="144.50" x2="258.80" y2="251.00" stroke="#e4e4e4" stroke-width="0.6"/><line x1="267.85" y1="144.50" x2="267.85" y2="251.00" stroke="#e4e4e4" stroke-width="0.6"/><line x1="276.90" y1="144.50" x2="276.90" y2="251.00" stroke="#e4e4e4" stroke-width="0.6"/><line x1="285.95" y1="144.50" x2="285.95" y2="251.00" stroke="#e4e4e4" stroke-width="0.6"/><line x1="295.00" y1="144.50" x2="295.00" y2="251.00" stroke="#e4e4e4" stroke-width="0.6"/><line x1="304.05" y1="144.50" x2="304.05" y2="251.00" stroke="#e4e4e4" stroke-width="0.6"/><line x1="313.10" y1="144.50" x2="313.10" y2="251.00" stroke="#e4e4e4" stroke-width="0.6"/><line x1="322.15" y1="144.50" x2="322.15" y2="251.00" stroke="#e4e4e4" stroke-width="0.6"/><line x1="331.20" y1="144.50" x2="331.20" y2="251.00" stroke="#e4e4e4" stroke-width="0.6"/><line x1="340.25" y1="144.50" x2="340.25" y2="251.00" stroke="#e4e4e4" stroke-width="0.6"/><line x1="222.60" y1="208.20" x2="349.50" y2="208.20" stroke="#e4e4e4" stroke-width="0.6"/><line x1="222.60" y1="187.10" x2="349.50" y2="187.10" stroke="#e4e4e4" stroke-width="0.6"/><line x1="222.60" y1="166.00" x2="349.50" y2="166.00" stroke="#e4e4e4" stroke-width="0.6"/><line x1="222.60" y1="229.30" x2="349.50" y2="229.30" stroke="#e4e4e4" stroke-width="0.6"/><line x1="222.60" y1="144.50" x2="349.50" y2="144.50" stroke="#666" stroke-width="1.4"/><line x1="222.60" y1="251.00" x2="349.50" y2="251.00" stroke="#666" stroke-width="1.4"/><line x1="222.60" y1="144.50" x2="222.60" y2="251.00" stroke="#777" stroke-width="0.7"/><line x1="349.50" y1="144.50" x2="349.50" y2="251.00" stroke="#777" stroke-width="0.7"/><line x1="222.60" y1="250.40" x2="221.10" y2="250.40" stroke="#777" stroke-width="0.6"/><line x1="349.50" y1="250.40" x2="348.00" y2="250.40" stroke="#777" stroke-width="0.6"/><line x1="222.60" y1="229.30" x2="221.10" y2="229.30" stroke="#777" stroke-width="0.6"/><line x1="349.50" y1="229.30" x2="348.00" y2="229.30" stroke="#777" stroke-width="0.6"/><line x1="222.60" y1="208.20" x2="221.10" y2="208.20" stroke="#777" stroke-width="0.6"/><line x1="349.50" y1="208.20" x2="348.00" y2="208.20" stroke="#777" stroke-width="0.6"/><line x1="222.60" y1="187.10" x2="221.10" y2="187.10" stroke="#777" stroke-width="0.6"/><line x1="349.50" y1="187.10" x2="348.00" y2="187.10" stroke="#777" stroke-width="0.6"/><line x1="222.60" y1="166.00" x2="221.10" y2="166.00" stroke="#777" stroke-width="0.6"/><line x1="349.50" y1="166.00" x2="348.00" y2="166.00" stroke="#777" stroke-width="0.6"/><line x1="222.60" y1="144.90" x2="221.10" y2="144.90" stroke="#777" stroke-width="0.6"/><line x1="349.50" y1="144.90" x2="348.00" y2="144.90" stroke="#777" stroke-width="0.6"/><line x1="222.60" y1="250.40" x2="223.60" y2="250.40" stroke="#777" stroke-width="0.5"/><line x1="349.50" y1="250.40" x2="348.50" y2="250.40" stroke="#777" stroke-width="0.5"/><line x1="222.60" y1="245.12" x2="223.60" y2="245.12" stroke="#777" stroke-width="0.5"/><line x1="349.50" y1="245.12" x2="348.50" y2="245.12" stroke="#777" stroke-width="0.5"/><line x1="222.60" y1="239.85" x2="223.60" y2="239.85" stroke="#777" stroke-width="0.5"/><line x1="349.50" y1="239.85" x2="348.50" y2="239.85" stroke="#777" stroke-width="0.5"/><line x1="222.60" y1="234.58" x2="223.60" y2="234.58" stroke="#777" stroke-width="0.5"/><line x1="349.50" y1="234.58" x2="348.50" y2="234.58" stroke="#777" stroke-width="0.5"/><line x1="222.60" y1="229.30" x2="223.60" y2="229.30" stroke="#777" stroke-width="0.5"/><line x1="349.50" y1="229.30" x2="348.50" y2="229.30" stroke="#777" stroke-width="0.5"/><line x1="222.60" y1="224.03" x2="223.60" y2="224.03" stroke="#777" stroke-width="0.5"/><line x1="349.50" y1="224.03" x2="348.50" y2="224.03" stroke="#777" stroke-width="0.5"/><line x1="222.60" y1="218.75" x2="223.60" y2="218.75" stroke="#777" stroke-width="0.5"/><line x1="349.50" y1="218.75" x2="348.50" y2="218.75" stroke="#777" stroke-width="0.5"/><line x1="222.60" y1="213.48" x2="223.60" y2="213.48" stroke="#777" stroke-width="0.5"/><line x1="349.50" y1="213.48" x2="348.50" y2="213.48" stroke="#777" stroke-width="0.5"/><line x1="222.60" y1="208.20" x2="223.60" y2="208.20" stroke="#777" stroke-width="0.5"/><line x1="349.50" y1="208.20" x2="348.50" y2="208.20" stroke="#777" stroke-width="0.5"/><line x1="222.60" y1="202.93" x2="223.60" y2="202.93" stroke="#777" stroke-width="0.5"/><line x1="349.50" y1="202.93" x2="348.50" y2="202.93" stroke="#777" stroke-width="0.5"/><line x1="222.60" y1="197.65" x2="223.60" y2="197.65" stroke="#777" stroke-width="0.5"/><line x1="349.50" y1="197.65" x2="348.50" y2="197.65" stroke="#777" stroke-width="0.5"/><line x1="222.60" y1="192.38" x2="223.60" y2="192.38" stroke="#777" stroke-width="0.5"/><line x1="349.50" y1="192.38" x2="348.50" y2="192.38" stroke="#777" stroke-width="0.5"/><line x1="222.60" y1="187.10" x2="223.60" y2="187.10" stroke="#777" stroke-width="0.5"/><line x1="349.50" y1="187.10" x2="348.50" y2="187.10" stroke="#777" stroke-width="0.5"/><line x1="222.60" y1="181.83" x2="223.60" y2="181.83" stroke="#777" stroke-width="0.5"/><line x1="349.50" y1="181.83" x2="348.50" y2="181.83" stroke="#777" stroke-width="0.5"/><line x1="222.60" y1="176.55" x2="223.60" y2="176.55" stroke="#777" stroke-width="0.5"/><line x1="349.50" y1="176.55" x2="348.50" y2="176.55" stroke="#777" stroke-width="0.5"/><line x1="222.60" y1="171.28" x2="223.60" y2="171.28" stroke="#777" stroke-width="0.5"/><line x1="349.50" y1="171.28" x2="348.50" y2="171.28" stroke="#777" stroke-width="0.5"/><line x1="222.60" y1="166.00" x2="223.60" y2="166.00" stroke="#777" stroke-width="0.5"/><line x1="349.50" y1="166.00" x2="348.50" y2="166.00" stroke="#777" stroke-width="0.5"/><line x1="222.60" y1="160.73" x2="223.60" y2="160.73" stroke="#777" stroke-width="0.5"/><line x1="349.50" y1="160.73" x2="348.50" y2="160.73" stroke="#777" stroke-width="0.5"/><line x1="222.60" y1="155.45" x2="223.60" y2="155.45" stroke="#777" stroke-width="0.5"/><line x1="349.50" y1="155.45" x2="348.50" y2="155.45" stroke="#777" stroke-width="0.5"/><line x1="222.60" y1="150.18" x2="223.60" y2="150.18" stroke="#777" stroke-width="0.5"/><line x1="349.50" y1="150.18" x2="348.50" y2="150.18" stroke="#777" stroke-width="0.5"/><line x1="222.60" y1="144.90" x2="223.60" y2="144.90" stroke="#777" stroke-width="0.5"/><line x1="349.50" y1="144.90" x2="348.50" y2="144.90" stroke="#777" stroke-width="0.5"/><line x1="222.60" y1="251.00" x2="222.60" y2="252.50" stroke="#777" stroke-width="0.6"/><line x1="227.12" y1="251.00" x2="227.12" y2="250.00" stroke="#777" stroke-width="0.5"/><line x1="227.12" y1="144.50" x2="227.12" y2="145.50" stroke="#777" stroke-width="0.5"/><text x="222.6" y="257.5" font-family="Liberation Sans, sans-serif" font-size="4.6" text-anchor="middle" fill="#2a2a2a">3</text><line x1="231.65" y1="251.00" x2="231.65" y2="252.50" stroke="#777" stroke-width="0.6"/><line x1="236.17" y1="251.00" x2="236.17" y2="250.00" stroke="#777" stroke-width="0.5"/><line x1="236.17" y1="144.50" x2="236.17" y2="145.50" stroke="#777" stroke-width="0.5"/><text x="231.65" y="257.5" font-family="Liberation Sans, sans-serif" font-size="4.6" text-anchor="middle" fill="#2a2a2a">4</text><line x1="240.70" y1="251.00" x2="240.70" y2="252.50" stroke="#777" stroke-width="0.6"/><line x1="245.22" y1="251.00" x2="245.22" y2="250.00" stroke="#777" stroke-width="0.5"/><line x1="245.22" y1="144.50" x2="245.22" y2="145.50" stroke="#777" stroke-width="0.5"/><text x="240.7" y="257.5" font-family="Liberation Sans, sans-serif" font-size="4.6" text-anchor="middle" fill="#2a2a2a">5</text><line x1="249.75" y1="251.00" x2="249.75" y2="252.50" stroke="#777" stroke-width="0.6"/><line x1="254.28" y1="251.00" x2="254.28" y2="250.00" stroke="#777" stroke-width="0.5"/><line x1="254.28" y1="144.50" x2="254.28" y2="145.50" stroke="#777" stroke-width="0.5"/><text x="249.75" y="257.5" font-family="Liberation Sans, sans-serif" font-size="4.6" text-anchor="middle" fill="#2a2a2a">6</text><line x1="258.80" y1="251.00" x2="258.80" y2="252.50" stroke="#777" stroke-width="0.6"/><line x1="263.32" y1="251.00" x2="263.32" y2="250.00" stroke="#777" stroke-width="0.5"/><line x1="263.32" y1="144.50" x2="263.32" y2="145.50" stroke="#777" stroke-width="0.5"/><text x="258.8" y="257.5" font-family="Liberation Sans, sans-serif" font-size="4.6" text-anchor="middle" fill="#2a2a2a">7</text><line x1="267.85" y1="251.00" x2="267.85" y2="252.50" stroke="#777" stroke-width="0.6"/><line x1="272.38" y1="251.00" x2="272.38" y2="250.00" stroke="#777" stroke-width="0.5"/><line x1="272.38" y1="144.50" x2="272.38" y2="145.50" stroke="#777" stroke-width="0.5"/><text x="267.85" y="257.5" font-family="Liberation Sans, sans-serif" font-size="4.6" text-anchor="middle" fill="#2a2a2a">8</text><line x1="276.90" y1="251.00" x2="276.90" y2="252.50" stroke="#777" stroke-width="0.6"/><line x1="281.43" y1="251.00" x2="281.43" y2="250.00" stroke="#777" stroke-width="0.5"/><line x1="281.43" y1="144.50" x2="281.43" y2="145.50" stroke="#777" stroke-width="0.5"/><text x="276.9" y="257.5" font-family="Liberation Sans, sans-serif" font-size="4.6" text-anchor="middle" fill="#2a2a2a">9</text><line x1="285.95" y1="251.00" x2="285.95" y2="252.50" stroke="#777" stroke-width="0.6"/><line x1="290.48" y1="251.00" x2="290.48" y2="250.00" stroke="#777" stroke-width="0.5"/><line x1="290.48" y1="144.50" x2="290.48" y2="145.50" stroke="#777" stroke-width="0.5"/><text x="285.95" y="257.5" font-family="Liberation Sans, sans-serif" font-size="4.6" text-anchor="middle" fill="#2a2a2a">10</text><line x1="295.00" y1="251.00" x2="295.00" y2="252.50" stroke="#777" stroke-width="0.6"/><line x1="299.52" y1="251.00" x2="299.52" y2="250.00" stroke="#777" stroke-width="0.5"/><line x1="299.52" y1="144.50" x2="299.52" y2="145.50" stroke="#777" stroke-width="0.5"/><text x="295.0" y="257.5" font-family="Liberation Sans, sans-serif" font-size="4.6" text-anchor="middle" fill="#2a2a2a">11</text><line x1="304.05" y1="251.00" x2="304.05" y2="252.50" stroke="#777" stroke-width="0.6"/><line x1="308.57" y1="251.00" x2="308.57" y2="250.00" stroke="#777" stroke-width="0.5"/><line x1="308.57" y1="144.50" x2="308.57" y2="145.50" stroke="#777" stroke-width="0.5"/><text x="304.05" y="257.5" font-family="Liberation Sans, sans-serif" font-size="4.6" text-anchor="middle" fill="#2a2a2a">12</text><line x1="313.10" y1="251.00" x2="313.10" y2="252.50" stroke="#777" stroke-width="0.6"/><line x1="317.62" y1="251.00" x2="317.62" y2="250.00" stroke="#777" stroke-width="0.5"/><line x1="317.62" y1="144.50" x2="317.62" y2="145.50" stroke="#777" stroke-width="0.5"/><text x="313.1" y="257.5" font-family="Liberation Sans, sans-serif" font-size="4.6" text-anchor="middle" fill="#2a2a2a">13</text><line x1="322.15" y1="251.00" x2="322.15" y2="252.50" stroke="#777" stroke-width="0.6"/><line x1="326.68" y1="251.00" x2="326.68" y2="250.00" stroke="#777" stroke-width="0.5"/><line x1="326.68" y1="144.50" x2="326.68" y2="145.50" stroke="#777" stroke-width="0.5"/><text x="322.15" y="257.5" font-family="Liberation Sans, sans-serif" font-size="4.6" text-anchor="middle" fill="#2a2a2a">14</text><line x1="331.20" y1="251.00" x2="331.20" y2="252.50" stroke="#777" stroke-width="0.6"/><line x1="335.73" y1="251.00" x2="335.73" y2="250.00" stroke="#777" stroke-width="0.5"/><line x1="335.73" y1="144.50" x2="335.73" y2="145.50" stroke="#777" stroke-width="0.5"/><text x="331.2" y="257.5" font-family="Liberation Sans, sans-serif" font-size="4.6" text-anchor="middle" fill="#2a2a2a">15</text><line x1="340.25" y1="251.00" x2="340.25" y2="252.50" stroke="#777" stroke-width="0.6"/><line x1="344.77" y1="251.00" x2="344.77" y2="250.00" stroke="#777" stroke-width="0.5"/><line x1="344.77" y1="144.50" x2="344.77" y2="145.50" stroke="#777" stroke-width="0.5"/><text x="340.25" y="257.5" font-family="Liberation Sans, sans-serif" font-size="4.6" text-anchor="middle" fill="#2a2a2a">16</text><line x1="349.30" y1="251.00" x2="349.30" y2="252.50" stroke="#777" stroke-width="0.6"/><text x="349.3" y="257.5" font-family="Liberation Sans, sans-serif" font-size="4.6" text-anchor="middle" fill="#2a2a2a">17</text><text x="219.8" y="146.5" font-family="Liberation Sans, sans-serif" font-size="4.5" text-anchor="end" fill="#2a2a2a">2.0</text><text x="219.8" y="167.6" font-family="Liberation Sans, sans-serif" font-size="4.5" text-anchor="end" fill="#2a2a2a">1.5</text><text x="219.8" y="188.70000000000002" font-family="Liberation Sans, sans-serif" font-size="4.5" text-anchor="end" fill="#2a2a2a">1.0</text><text x="219.8" y="209.8" font-family="Liberation Sans, sans-serif" font-size="4.5" text-anchor="end" fill="#2a2a2a">0.5</text><text x="219.8" y="230.9" font-family="Liberation Sans, sans-serif" font-size="4.5" text-anchor="end" fill="#2a2a2a">0.0</text><text x="219.8" y="252.0" font-family="Liberation Sans, sans-serif" font-size="4.5" text-anchor="end" fill="#2a2a2a">-0.5</text><text x="286.5" y="266" font-family="Liberation Sans, sans-serif" font-size="6.2" text-anchor="middle" fill="#2a2a2a" textLength="16.5" lengthAdjust="spacingAndGlyphs">Time (s)</text><text x="206.3" y="198" font-family="Liberation Sans, sans-serif" font-size="5.8" text-anchor="middle" fill="#2a2a2a" textLength="50.7" lengthAdjust="spacingAndGlyphs" transform="rotate(-90 206.3 198)">Generated Voltage (V)</text><line x1="222.60" y1="164.20" x2="349.50" y2="164.20" stroke="#ff7070" stroke-width="1"/><line x1="222.60" y1="222.90" x2="349.50" y2="222.90" stroke="#ff7070" stroke-width="1"/><polyline points="222.60,156.02 222.96,156.70 223.32,156.31 223.69,156.83 224.05,156.88 224.41,155.64 224.77,155.53 225.13,157.34 225.50,156.07 225.86,156.02 226.22,157.69 226.58,156.53 226.94,157.34 227.31,156.55 227.67,156.91 228.03,155.83 228.39,156.90 228.75,157.41 229.12,156.65 229.48,157.13 229.84,156.98 230.20,155.64 230.56,157.17 230.93,156.80 231.29,156.16 231.65,155.57 232.01,157.40 232.37,156.54 232.74,157.08 233.10,157.43 233.46,157.07 233.82,157.53 234.18,156.37 234.55,157.26 234.91,156.48 235.27,157.56 235.63,157.43 235.99,155.71 236.36,155.80 236.72,155.98 237.08,157.62 237.44,156.46 237.80,156.88 238.17,156.16 238.53,156.62 238.89,156.35 239.25,156.27 239.61,156.79 239.98,156.79 240.34,157.49 240.70,157.00 241.06,157.54 241.42,157.38 241.79,157.68 242.15,156.98 242.51,155.86 242.87,157.39 243.30,157.50 243.30,221.50 242.96,223.81 243.41,224.25 243.87,224.15 244.32,224.87 244.77,224.38 245.22,225.88 245.68,225.76 246.13,225.56 246.58,225.46 247.03,227.14 247.49,227.63 247.94,226.23 248.39,227.71 248.84,227.20 249.30,226.90 249.75,227.31 250.20,228.31 250.65,228.62 251.11,227.25 251.56,228.38 252.01,227.45 252.46,228.75 252.92,228.14 253.37,229.20 253.82,229.45 254.27,228.66 254.73,229.60 255.18,228.41 255.63,228.04 256.08,229.03 256.54,228.04 256.99,228.38 257.44,228.79 257.89,229.18 258.35,228.39 258.80,228.21 259.25,229.72 259.70,228.75 260.16,229.93 260.61,229.83 261.06,228.91 261.51,229.08 261.97,229.20 262.42,229.43 262.87,229.36 263.32,229.30 263.78,229.42 264.23,230.00 264.68,229.23 265.13,229.10 265.59,229.63 266.04,228.77 266.49,228.89 266.94,230.11 267.40,229.29 267.85,229.34 268.30,228.38 268.75,229.11 269.21,229.41 269.66,228.41 270.11,229.48 270.56,229.51 271.02,228.49 271.47,229.51 271.92,229.22 272.37,229.61 272.83,229.02 273.28,229.66 273.73,229.72 274.19,228.43 274.64,228.50 275.09,229.61 275.54,230.12 276.00,228.84 276.45,229.21 276.90,229.46 277.35,228.97 277.81,229.05 278.26,228.96 278.71,229.06 279.16,229.47 279.62,228.94 280.07,229.08 280.52,229.79 280.97,228.45 281.43,229.42 281.88,229.72 282.33,228.96 282.78,228.80 283.24,229.84 283.69,228.83 284.14,228.74 284.59,229.18 285.05,229.66 285.50,228.58 285.95,228.98 286.40,229.00 286.86,229.90 287.31,229.19 287.76,229.94 288.21,228.70 288.67,229.01 289.12,229.57 289.57,229.99 290.02,229.21 290.48,228.80 290.93,228.62 291.38,229.35 291.83,228.74 292.29,229.85 292.74,229.91 293.19,228.73 293.64,228.90 294.10,229.85 294.55,229.56 295.00,229.85 295.45,229.02 295.91,228.63 296.36,228.93 296.81,229.83 297.26,228.89 297.72,229.02 298.17,229.15 298.62,229.16 299.07,229.14 299.53,230.06 299.98,228.68 300.43,228.41 300.88,230.10 301.34,229.98 301.79,230.18 302.24,229.18 302.69,230.11 303.15,230.07 303.60,228.80 304.05,229.74 304.50,229.91 304.96,229.59 305.41,229.33 305.86,228.92 306.31,229.01 306.77,228.81 307.22,228.52 307.67,229.46 308.12,228.92 308.58,229.86 309.03,228.48 309.48,230.03 309.93,229.65 310.39,230.06 310.84,230.01 311.29,230.02 311.74,229.44 312.20,228.42 312.65,229.74 313.10,228.71 313.55,228.94 314.01,229.59 314.46,229.34 314.91,229.14 315.36,230.09 315.82,229.50 316.27,229.01 316.72,228.85 317.17,229.95 317.63,229.26 318.08,229.81 318.53,229.03 318.98,228.76 319.44,229.36 319.89,229.87 320.34,228.71 320.79,229.83 321.25,230.06 322.60,229.80 322.60,146.00 322.72,146.57 322.88,147.35 323.07,148.30 323.28,149.36 323.50,150.50 323.73,151.89 323.97,153.57 324.23,155.26 324.51,156.70 324.80,157.60 325.11,157.86 325.44,157.64 325.78,157.14 326.13,156.54 326.50,156.00 326.88,155.49 327.29,154.88 327.70,154.25 328.11,153.66 328.50,153.20 328.86,152.85 329.19,152.56 329.52,152.36 329.89,152.23 330.30,152.20 330.83,152.32 331.44,152.58 332.07,152.90 332.62,153.20 333.00,153.40 333.50,153.79 333.95,153.82 334.40,152.51 334.85,153.51 335.30,153.88 335.75,152.58 336.20,152.93 336.65,152.93 337.10,153.34 337.55,153.18 338.00,153.26 338.45,153.74 338.90,152.50 339.35,152.59 339.80,152.70 340.25,152.70 340.70,152.61 341.15,154.06 341.60,153.87 342.05,152.64 342.50,153.30 342.95,153.01 343.40,153.00 343.85,153.06 344.30,153.54 344.75,153.44 345.20,153.08 345.65,152.81 346.10,153.03 346.55,152.70 347.00,153.39 347.45,153.65 347.90,153.11 348.35,152.63 348.80,152.79 349.25,153.10" fill="none" stroke="#111" stroke-width="1.9" stroke-linejoin="round" stroke-linecap="round"/><line x1="266.40" y1="230.00" x2="266.40" y2="220.30" stroke="#111" stroke-width="0.9"/><line x1="281.90" y1="230.00" x2="281.90" y2="236.50" stroke="#111" stroke-width="0.9"/><rect x="260.2" y="178.2" width="43.6" height="13.5" fill="#fff" stroke="#cfcfcf" stroke-width="0.6"/><text x="263" y="184.2" font-family="Liberation Sans, sans-serif" font-size="5.6" text-anchor="start" fill="#2a2a2a" textLength="35.5" lengthAdjust="spacingAndGlyphs">Rising time:25 ms</text><text x="263" y="190.2" font-family="Liberation Sans, sans-serif" font-size="5.6" text-anchor="start" fill="#2a2a2a" textLength="38" lengthAdjust="spacingAndGlyphs">Falling time: 50 ms</text><line x1="249.05" y1="281.30" x2="249.05" y2="388.00" stroke="#e2e2e2" stroke-width="0.7"/><line x1="268.90" y1="281.30" x2="268.90" y2="388.00" stroke="#e2e2e2" stroke-width="0.7"/><line x1="288.75" y1="281.30" x2="288.75" y2="388.00" stroke="#e2e2e2" stroke-width="0.7"/><line x1="308.60" y1="281.30" x2="308.60" y2="388.00" stroke="#e2e2e2" stroke-width="0.7"/><line x1="328.45" y1="281.30" x2="328.45" y2="388.00" stroke="#e2e2e2" stroke-width="0.7"/><line x1="229.40" y1="358.80" x2="348.60" y2="358.80" stroke="#e2e2e2" stroke-width="0.7"/><line x1="229.40" y1="339.30" x2="348.60" y2="339.30" stroke="#e2e2e2" stroke-width="0.7"/><line x1="229.40" y1="319.80" x2="348.60" y2="319.80" stroke="#e2e2e2" stroke-width="0.7"/><line x1="229.40" y1="300.30" x2="348.60" y2="300.30" stroke="#e2e2e2" stroke-width="0.7"/><rect x="229.4" y="281.3" width="119.20000000000002" height="106.69999999999999" fill="none" stroke="#666" stroke-width="0.9"/><line x1="229.20" y1="388.00" x2="229.20" y2="386.40" stroke="#666" stroke-width="0.6"/><line x1="229.20" y1="281.30" x2="229.20" y2="282.90" stroke="#666" stroke-width="0.6"/><text x="229.2" y="394.8" font-family="Liberation Sans, sans-serif" font-size="4.9" text-anchor="middle" fill="#2a2a2a">200</text><line x1="249.05" y1="388.00" x2="249.05" y2="386.40" stroke="#666" stroke-width="0.6"/><line x1="249.05" y1="281.30" x2="249.05" y2="282.90" stroke="#666" stroke-width="0.6"/><text x="249.04999999999998" y="394.8" font-family="Liberation Sans, sans-serif" font-size="4.9" text-anchor="middle" fill="#2a2a2a">250</text><line x1="268.90" y1="388.00" x2="268.90" y2="386.40" stroke="#666" stroke-width="0.6"/><line x1="268.90" y1="281.30" x2="268.90" y2="282.90" stroke="#666" stroke-width="0.6"/><text x="268.9" y="394.8" font-family="Liberation Sans, sans-serif" font-size="4.9" text-anchor="middle" fill="#2a2a2a">300</text><line x1="288.75" y1="388.00" x2="288.75" y2="386.40" stroke="#666" stroke-width="0.6"/><line x1="288.75" y1="281.30" x2="288.75" y2="282.90" stroke="#666" stroke-width="0.6"/><text x="288.75" y="394.8" font-family="Liberation Sans, sans-serif" font-size="4.9" text-anchor="middle" fill="#2a2a2a">350</text><line x1="308.60" y1="388.00" x2="308.60" y2="386.40" stroke="#666" stroke-width="0.6"/><line x1="308.60" y1="281.30" x2="308.60" y2="282.90" stroke="#666" stroke-width="0.6"/><text x="308.6" y="394.8" font-family="Liberation Sans, sans-serif" font-size="4.9" text-anchor="middle" fill="#2a2a2a">400</text><line x1="328.45" y1="388.00" x2="328.45" y2="386.40" stroke="#666" stroke-width="0.6"/><line x1="328.45" y1="281.30" x2="328.45" y2="282.90" stroke="#666" stroke-width="0.6"/><text x="328.45" y="394.8" font-family="Liberation Sans, sans-serif" font-size="4.9" text-anchor="middle" fill="#2a2a2a">450</text><line x1="348.30" y1="388.00" x2="348.30" y2="386.40" stroke="#666" stroke-width="0.6"/><line x1="348.30" y1="281.30" x2="348.30" y2="282.90" stroke="#666" stroke-width="0.6"/><text x="348.3" y="394.8" font-family="Liberation Sans, sans-serif" font-size="4.9" text-anchor="middle" fill="#2a2a2a">500</text><line x1="233.17" y1="388.00" x2="233.17" y2="387.10" stroke="#666" stroke-width="0.5"/><line x1="237.14" y1="388.00" x2="237.14" y2="387.10" stroke="#666" stroke-width="0.5"/><line x1="241.11" y1="388.00" x2="241.11" y2="387.10" stroke="#666" stroke-width="0.5"/><line x1="245.08" y1="388.00" x2="245.08" y2="387.10" stroke="#666" stroke-width="0.5"/><line x1="249.05" y1="388.00" x2="249.05" y2="387.10" stroke="#666" stroke-width="0.5"/><line x1="253.02" y1="388.00" x2="253.02" y2="387.10" stroke="#666" stroke-width="0.5"/><line x1="256.99" y1="388.00" x2="256.99" y2="387.10" stroke="#666" stroke-width="0.5"/><line x1="260.96" y1="388.00" x2="260.96" y2="387.10" stroke="#666" stroke-width="0.5"/><line x1="264.93" y1="388.00" x2="264.93" y2="387.10" stroke="#666" stroke-width="0.5"/><line x1="268.90" y1="388.00" x2="268.90" y2="387.10" stroke="#666" stroke-width="0.5"/><line x1="272.87" y1="388.00" x2="272.87" y2="387.10" stroke="#666" stroke-width="0.5"/><line x1="276.84" y1="388.00" x2="276.84" y2="387.10" stroke="#666" stroke-width="0.5"/><line x1="280.81" y1="388.00" x2="280.81" y2="387.10" stroke="#666" stroke-width="0.5"/><line x1="284.78" y1="388.00" x2="284.78" y2="387.10" stroke="#666" stroke-width="0.5"/><line x1="288.75" y1="388.00" x2="288.75" y2="387.10" stroke="#666" stroke-width="0.5"/><line x1="292.72" y1="388.00" x2="292.72" y2="387.10" stroke="#666" stroke-width="0.5"/><line x1="296.69" y1="388.00" x2="296.69" y2="387.10" stroke="#666" stroke-width="0.5"/><line x1="300.66" y1="388.00" x2="300.66" y2="387.10" stroke="#666" stroke-width="0.5"/><line x1="304.63" y1="388.00" x2="304.63" y2="387.10" stroke="#666" stroke-width="0.5"/><line x1="308.60" y1="388.00" x2="308.60" y2="387.10" stroke="#666" stroke-width="0.5"/><line x1="312.57" y1="388.00" x2="312.57" y2="387.10" stroke="#666" stroke-width="0.5"/><line x1="316.54" y1="388.00" x2="316.54" y2="387.10" stroke="#666" stroke-width="0.5"/><line x1="320.51" y1="388.00" x2="320.51" y2="387.10" stroke="#666" stroke-width="0.5"/><line x1="324.48" y1="388.00" x2="324.48" y2="387.10" stroke="#666" stroke-width="0.5"/><line x1="328.45" y1="388.00" x2="328.45" y2="387.10" stroke="#666" stroke-width="0.5"/><line x1="332.42" y1="388.00" x2="332.42" y2="387.10" stroke="#666" stroke-width="0.5"/><line x1="336.39" y1="388.00" x2="336.39" y2="387.10" stroke="#666" stroke-width="0.5"/><line x1="340.36" y1="388.00" x2="340.36" y2="387.10" stroke="#666" stroke-width="0.5"/><line x1="344.33" y1="388.00" x2="344.33" y2="387.10" stroke="#666" stroke-width="0.5"/><line x1="229.40" y1="378.30" x2="227.90" y2="378.30" stroke="#666" stroke-width="0.6"/><line x1="348.60" y1="378.30" x2="347.10" y2="378.30" stroke="#666" stroke-width="0.6"/><line x1="229.40" y1="358.80" x2="227.90" y2="358.80" stroke="#666" stroke-width="0.6"/><line x1="348.60" y1="358.80" x2="347.10" y2="358.80" stroke="#666" stroke-width="0.6"/><line x1="229.40" y1="339.30" x2="227.90" y2="339.30" stroke="#666" stroke-width="0.6"/><line x1="348.60" y1="339.30" x2="347.10" y2="339.30" stroke="#666" stroke-width="0.6"/><line x1="229.40" y1="319.80" x2="227.90" y2="319.80" stroke="#666" stroke-width="0.6"/><line x1="348.60" y1="319.80" x2="347.10" y2="319.80" stroke="#666" stroke-width="0.6"/><line x1="229.40" y1="300.30" x2="227.90" y2="300.30" stroke="#666" stroke-width="0.6"/><line x1="348.60" y1="300.30" x2="347.10" y2="300.30" stroke="#666" stroke-width="0.6"/><line x1="229.40" y1="280.80" x2="227.90" y2="280.80" stroke="#666" stroke-width="0.6"/><line x1="348.60" y1="280.80" x2="347.10" y2="280.80" stroke="#666" stroke-width="0.6"/><line x1="229.40" y1="368.55" x2="230.40" y2="368.55" stroke="#666" stroke-width="0.5"/><line x1="348.60" y1="368.55" x2="347.60" y2="368.55" stroke="#666" stroke-width="0.5"/><line x1="229.40" y1="349.05" x2="230.40" y2="349.05" stroke="#666" stroke-width="0.5"/><line x1="348.60" y1="349.05" x2="347.60" y2="349.05" stroke="#666" stroke-width="0.5"/><line x1="229.40" y1="329.55" x2="230.40" y2="329.55" stroke="#666" stroke-width="0.5"/><line x1="348.60" y1="329.55" x2="347.60" y2="329.55" stroke="#666" stroke-width="0.5"/><line x1="229.40" y1="310.05" x2="230.40" y2="310.05" stroke="#666" stroke-width="0.5"/><line x1="348.60" y1="310.05" x2="347.60" y2="310.05" stroke="#666" stroke-width="0.5"/><line x1="229.40" y1="290.55" x2="230.40" y2="290.55" stroke="#666" stroke-width="0.5"/><line x1="348.60" y1="290.55" x2="347.60" y2="290.55" stroke="#666" stroke-width="0.5"/><text x="226.8" y="282.40000000000003" font-family="Liberation Sans, sans-serif" font-size="4.5" text-anchor="end" fill="#2a2a2a" textLength="13.2" lengthAdjust="spacingAndGlyphs">2.5x10<tspan font-size="3.5" dy="-2.2">-7</tspan></text><text x="226.8" y="301.90000000000003" font-family="Liberation Sans, sans-serif" font-size="4.5" text-anchor="end" fill="#2a2a2a" textLength="13.2" lengthAdjust="spacingAndGlyphs">2.0x10<tspan font-size="3.5" dy="-2.2">-7</tspan></text><text x="226.8" y="321.40000000000003" font-family="Liberation Sans, sans-serif" font-size="4.5" text-anchor="end" fill="#2a2a2a" textLength="13.2" lengthAdjust="spacingAndGlyphs">1.5x10<tspan font-size="3.5" dy="-2.2">-7</tspan></text><text x="226.8" y="340.90000000000003" font-family="Liberation Sans, sans-serif" font-size="4.5" text-anchor="end" fill="#2a2a2a" textLength="13.2" lengthAdjust="spacingAndGlyphs">1.0x10<tspan font-size="3.5" dy="-2.2">-7</tspan></text><text x="226.8" y="360.40000000000003" font-family="Liberation Sans, sans-serif" font-size="4.5" text-anchor="end" fill="#2a2a2a" textLength="13.2" lengthAdjust="spacingAndGlyphs">5.0x10<tspan font-size="3.5" dy="-2.2">-7</tspan></text><text x="226.3" y="379.90000000000003" font-family="Liberation Sans, sans-serif" font-size="4.5" text-anchor="end" fill="#2a2a2a">0.0</text><text x="288.7" y="402.6" font-family="Liberation Sans, sans-serif" font-size="6.2" text-anchor="middle" fill="#2a2a2a" textLength="34" lengthAdjust="spacingAndGlyphs">Wavelength (nm)</text><text x="206.4" y="333.2" font-family="Liberation Sans, sans-serif" font-size="4.6" text-anchor="middle" fill="#2a2a2a" textLength="37" lengthAdjust="spacingAndGlyphs" transform="rotate(-90 206.4 333.2)">Responsivity (A/W)</text><polyline points="229.20,354.51 233.17,349.83 237.14,345.54 241.11,339.69 245.08,332.28 249.05,324.87 253.02,322.14 256.99,324.48 260.96,319.80 264.93,322.53 268.90,317.46 272.87,312.00 276.84,302.25 280.81,316.68 284.78,302.25 288.75,292.50 292.72,308.88 296.69,312.78 300.66,358.80 304.63,376.35 308.60,377.13 312.57,377.13" fill="none" stroke="#222" stroke-width="1.1" stroke-linejoin="round" stroke-linecap="round"/><circle cx="229.20" cy="354.51" r="1.05" fill="#111" stroke="none" stroke-width="1"/><circle cx="233.17" cy="349.83" r="1.05" fill="#111" stroke="none" stroke-width="1"/><circle cx="237.14" cy="345.54" r="1.05" fill="#111" stroke="none" stroke-width="1"/><circle cx="241.11" cy="339.69" r="1.05" fill="#111" stroke="none" stroke-width="1"/><circle cx="245.08" cy="332.28" r="1.05" fill="#111" stroke="none" stroke-width="1"/><circle cx="249.05" cy="324.87" r="1.05" fill="#111" stroke="none" stroke-width="1"/><circle cx="253.02" cy="322.14" r="1.05" fill="#111" stroke="none" stroke-width="1"/><circle cx="256.99" cy="324.48" r="1.05" fill="#111" stroke="none" stroke-width="1"/><circle cx="260.96" cy="319.80" r="1.05" fill="#111" stroke="none" stroke-width="1"/><circle cx="264.93" cy="322.53" r="1.05" fill="#111" stroke="none" stroke-width="1"/><circle cx="268.90" cy="317.46" r="1.05" fill="#111" stroke="none" stroke-width="1"/><circle cx="272.87" cy="312.00" r="1.05" fill="#111" stroke="none" stroke-width="1"/><circle cx="276.84" cy="302.25" r="1.05" fill="#111" stroke="none" stroke-width="1"/><circle cx="280.81" cy="316.68" r="1.05" fill="#111" stroke="none" stroke-width="1"/><circle cx="284.78" cy="302.25" r="1.05" fill="#111" stroke="none" stroke-width="1"/><circle cx="288.75" cy="292.50" r="1.05" fill="#111" stroke="none" stroke-width="1"/><circle cx="292.72" cy="308.88" r="1.05" fill="#111" stroke="none" stroke-width="1"/><circle cx="296.69" cy="312.78" r="1.05" fill="#111" stroke="none" stroke-width="1"/><circle cx="300.66" cy="358.80" r="1.05" fill="#111" stroke="none" stroke-width="1"/><circle cx="304.63" cy="376.35" r="1.05" fill="#111" stroke="none" stroke-width="1"/><circle cx="308.60" cy="377.13" r="1.05" fill="#111" stroke="none" stroke-width="1"/><circle cx="312.57" cy="377.13" r="1.05" fill="#111" stroke="none" stroke-width="1"/><polyline points="229.20,378.30 233.17,378.30 237.14,378.30 241.11,378.30 245.08,378.30 249.05,378.30 253.02,378.30 256.99,378.30 260.96,378.30 264.93,378.30 268.90,378.30 272.87,378.30 276.84,378.30 278.03,377.52 279.22,376.74 280.41,375.96 281.60,375.57 282.80,375.18 283.99,374.79 285.18,374.40 286.37,374.01 287.56,373.23 288.75,372.45 291.13,369.72 293.12,362.31 294.70,331.50 296.69,336.18 298.68,351.39 300.66,366.99 302.64,376.74 304.63,377.52 306.62,377.91 308.60,378.30 312.57,378.30 316.54,378.30 320.51,378.30 324.48,378.30 328.45,378.30 332.42,378.30 336.39,378.30 340.36,378.30 344.33,378.30 348.30,378.30" fill="none" stroke="#ff1010" stroke-width="1.1" stroke-linejoin="round" stroke-linecap="round"/><circle cx="229.20" cy="378.30" r="1.15" fill="#ff1010" stroke="none" stroke-width="1"/><circle cx="233.17" cy="378.30" r="1.15" fill="#ff1010" stroke="none" stroke-width="1"/><circle cx="237.14" cy="378.30" r="1.15" fill="#ff1010" stroke="none" stroke-width="1"/><circle cx="241.11" cy="378.30" r="1.15" fill="#ff1010" stroke="none" stroke-width="1"/><circle cx="245.08" cy="378.30" r="1.15" fill="#ff1010" stroke="none" stroke-width="1"/><circle cx="249.05" cy="378.30" r="1.15" fill="#ff1010" stroke="none" stroke-width="1"/><circle cx="253.02" cy="378.30" r="1.15" fill="#ff1010" stroke="none" stroke-width="1"/><circle cx="256.99" cy="378.30" r="1.15" fill="#ff1010" stroke="none" stroke-width="1"/><circle cx="260.96" cy="378.30" r="1.15" fill="#ff1010" stroke="none" stroke-width="1"/><circle cx="264.93" cy="378.30" r="1.15" fill="#ff1010" stroke="none" stroke-width="1"/><circle cx="268.90" cy="378.30" r="1.15" fill="#ff1010" stroke="none" stroke-width="1"/><circle cx="272.87" cy="378.30" r="1.15" fill="#ff1010" stroke="none" stroke-width="1"/><circle cx="276.84" cy="378.30" r="1.15" fill="#ff1010" stroke="none" stroke-width="1"/><circle cx="278.03" cy="377.52" r="1.15" fill="#ff1010" stroke="none" stroke-width="1"/><circle cx="279.22" cy="376.74" r="1.15" fill="#ff1010" stroke="none" stroke-width="1"/><circle cx="280.41" cy="375.96" r="1.15" fill="#ff1010" stroke="none" stroke-width="1"/><circle cx="281.60" cy="375.57" r="1.15" fill="#ff1010" stroke="none" stroke-width="1"/><circle cx="282.80" cy="375.18" r="1.15" fill="#ff1010" stroke="none" stroke-width="1"/><circle cx="283.99" cy="374.79" r="1.15" fill="#ff1010" stroke="none" stroke-width="1"/><circle cx="285.18" cy="374.40" r="1.15" fill="#ff1010" stroke="none" stroke-width="1"/><circle cx="286.37" cy="374.01" r="1.15" fill="#ff1010" stroke="none" stroke-width="1"/><circle cx="287.56" cy="373.23" r="1.15" fill="#ff1010" stroke="none" stroke-width="1"/><circle cx="288.75" cy="372.45" r="1.15" fill="#ff1010" stroke="none" stroke-width="1"/><circle cx="291.13" cy="369.72" r="1.15" fill="#ff1010" stroke="none" stroke-width="1"/><circle cx="293.12" cy="362.31" r="1.15" fill="#ff1010" stroke="none" stroke-width="1"/><circle cx="294.70" cy="331.50" r="1.15" fill="#ff1010" stroke="none" stroke-width="1"/><circle cx="296.69" cy="336.18" r="1.15" fill="#ff1010" stroke="none" stroke-width="1"/><circle cx="298.68" cy="351.39" r="1.15" fill="#ff1010" stroke="none" stroke-width="1"/><circle cx="300.66" cy="366.99" r="1.15" fill="#ff1010" stroke="none" stroke-width="1"/><circle cx="302.64" cy="376.74" r="1.15" fill="#ff1010" stroke="none" stroke-width="1"/><circle cx="304.63" cy="377.52" r="1.15" fill="#ff1010" stroke="none" stroke-width="1"/><circle cx="306.62" cy="377.91" r="1.15" fill="#ff1010" stroke="none" stroke-width="1"/><circle cx="308.60" cy="378.30" r="1.15" fill="#ff1010" stroke="none" stroke-width="1"/><circle cx="312.57" cy="378.30" r="1.15" fill="#ff1010" stroke="none" stroke-width="1"/><circle cx="316.54" cy="378.30" r="1.15" fill="#ff1010" stroke="none" stroke-width="1"/><circle cx="320.51" cy="378.30" r="1.15" fill="#ff1010" stroke="none" stroke-width="1"/><circle cx="324.48" cy="378.30" r="1.15" fill="#ff1010" stroke="none" stroke-width="1"/><circle cx="328.45" cy="378.30" r="1.15" fill="#ff1010" stroke="none" stroke-width="1"/><circle cx="332.42" cy="378.30" r="1.15" fill="#ff1010" stroke="none" stroke-width="1"/><circle cx="336.39" cy="378.30" r="1.15" fill="#ff1010" stroke="none" stroke-width="1"/><circle cx="340.36" cy="378.30" r="1.15" fill="#ff1010" stroke="none" stroke-width="1"/><circle cx="344.33" cy="378.30" r="1.15" fill="#ff1010" stroke="none" stroke-width="1"/><circle cx="348.30" cy="378.30" r="1.15" fill="#ff1010" stroke="none" stroke-width="1"/><line x1="241.70" y1="289.30" x2="251.70" y2="289.30" stroke="#222" stroke-width="1.1"/><circle cx="246.70" cy="289.30" r="1.05" fill="#111" stroke="none" stroke-width="1"/><line x1="241.70" y1="295.70" x2="251.70" y2="295.70" stroke="#ff1010" stroke-width="1.1"/><circle cx="246.70" cy="295.70" r="1.15" fill="#ff1010" stroke="none" stroke-width="1"/><text x="252.8" y="291.6" font-family="Liberation Sans, sans-serif" font-size="5.6" text-anchor="start" fill="#2a2a2a" textLength="34" lengthAdjust="spacingAndGlyphs">Front Illumination</text><text x="252.8" y="297.4" font-family="Liberation Sans, sans-serif" font-size="5.6" text-anchor="start" fill="#2a2a2a" textLength="32.4" lengthAdjust="spacingAndGlyphs">Back Illumination</text><text x="382.3" y="22.8" font-family="Liberation Serif, serif" font-size="17" font-weight="bold" text-anchor="start" fill="#000">(c)</text><rect x="402.1" y="9.8" width="33.5" height="37" fill="#a9b894" stroke="none" stroke-width="1"/><polygon points="405,14 432.4,14 432.2,41.6 430.8,43.4 405.4,43.8 404.3,42" fill="#b3b496"/><polygon points="405.4,40.6 431.8,40.2 431.4,42.6 405.6,43.4" fill="#c9c1a2"/><line x1="405.40" y1="43.90" x2="431.50" y2="43.20" stroke="#6f6a4c" stroke-width="0.8"/><line x1="405.00" y1="14.50" x2="404.50" y2="42.50" stroke="#8a8c70" stroke-width="0.6"/><rect x="429.1" y="16.2" width="3.8" height="9.1" fill="#71806a" stroke="none" stroke-width="1"/><circle cx="413.90" cy="19.20" r="1.4" fill="#1e1e12" stroke="none" stroke-width="1"/><text x="412" y="15.7" font-family="Liberation Sans, sans-serif" font-size="3.2" text-anchor="start" fill="#3050d0" textLength="5" lengthAdjust="spacingAndGlyphs">Au</text><text x="429.2" y="15.7" font-family="Liberation Sans, sans-serif" font-size="3.2" text-anchor="start" fill="#3050d0" textLength="3.2" lengthAdjust="spacingAndGlyphs">In</text><defs><linearGradient id="cylg" x1="0" y1="0" x2="0" y2="1"><stop offset="0" stop-color="#c2b0d6"/><stop offset="0.55" stop-color="#a27cc8"/><stop offset="1" stop-color="#7a3fae"/></linearGradient><linearGradient id="nwg" x1="0" y1="0" x2="0" y2="1"><stop offset="0" stop-color="#2ad0ee"/><stop offset="1" stop-color="#1a9bd0"/></linearGradient><linearGradient id="pcyl" x1="0" y1="0" x2="0" y2="1"><stop offset="0" stop-color="#9d58c2"/><stop offset="0.45" stop-color="#8654c0"/><stop offset="0.8" stop-color="#5468c6"/><stop offset="1" stop-color="#2a98cc"/></linearGradient></defs><path d="M386.1,51.2 L386.1,81 A7.85,2.8 0 0 0 401.8,81 L401.8,51.2 Z" fill="url(#cylg)"/><path d="M390.6,62.4 L390.6,81.4 A3.75,1.3 0 0 0 398.1,81.4 L398.1,62.4 A3.75,1.9 0 0 0 390.6,62.4 Z" fill="#22c6e6"/><ellipse cx="393.95" cy="51.2" rx="7.85" ry="3.5" fill="#cdbedd" stroke="#a58cc6" stroke-width="0.5"/><line x1="398.00" y1="59.60" x2="403.80" y2="59.60" stroke="#e03030" stroke-width="0.6"/><line x1="398.00" y1="66.80" x2="403.80" y2="66.80" stroke="#e03030" stroke-width="0.6"/><polygon points="397.6,59.6 399.4,58.8 399.4,60.4" fill="#e03030"/><polygon points="397.6,66.8 399.4,66 399.4,67.6" fill="#e03030"/><text x="404.5" y="61.5" font-family="Liberation Serif, serif" font-size="4.2" font-weight="bold" text-anchor="start" fill="#222" textLength="15.8" lengthAdjust="spacingAndGlyphs">NiO shell</text><text x="404.5" y="68.9" font-family="Liberation Serif, serif" font-size="4.2" font-weight="bold" text-anchor="start" fill="#222" textLength="14.8" lengthAdjust="spacingAndGlyphs">ZnO NW</text><polygon points="501.7,114.4 543.2,70.5 543.2,91.19999999999999 501.7,135.1" fill="#b6dba0" stroke="#8fbf80" stroke-width="0.5"/><polygon points="501.7,104.0 543.2,60.1 543.2,70.5 501.7,114.4" fill="#1594b8"/><polygon points="412.4,104.0 453.9,60.1 543.2,60.1 501.7,104.0" fill="#22b4d6"/><rect x="412.4" y="114.4" width="89.30000000000001" height="20.69999999999999" fill="#d1ebb6" stroke="#9cc78a" stroke-width="0.5"/><rect x="412.4" y="104.0" width="89.30000000000001" height="10.400000000000006" fill="#1aa6cc" stroke="none" stroke-width="1"/><text x="456.5" y="126.4" font-family="Liberation Serif, serif" font-size="9" font-weight="bold" text-anchor="middle" fill="#111" textLength="46.5" lengthAdjust="spacingAndGlyphs">Sapphire substrate</text><path d="M455.05,31.91 L455.05,62.91 A5.35,2.5 0 0 0 465.75,62.91 L465.75,31.91 Z" fill="url(#pcyl)" stroke="#7040a0" stroke-width="0.3"/><ellipse cx="460.40" cy="31.91" rx="5.35" ry="2.6" fill="#b898da" stroke="#8a58b8" stroke-width="0.5"/><path d="M465.75,31.91 L465.75,62.91 A5.35,2.5 0 0 0 476.45,62.91 L476.45,31.91 Z" fill="url(#pcyl)" stroke="#7040a0" stroke-width="0.3"/><ellipse cx="471.10" cy="31.91" rx="5.35" ry="2.6" fill="#b898da" stroke="#8a58b8" stroke-width="0.5"/><path d="M476.45,31.91 L476.45,62.91 A5.35,2.5 0 0 0 487.15,62.91 L487.15,31.91 Z" fill="url(#pcyl)" stroke="#7040a0" stroke-width="0.3"/><ellipse cx="481.80" cy="31.91" rx="5.35" ry="2.6" fill="#b898da" stroke="#8a58b8" stroke-width="0.5"/><path d="M487.15,31.91 L487.15,62.91 A5.35,2.5 0 0 0 497.85,62.91 L497.85,31.91 Z" fill="url(#pcyl)" stroke="#7040a0" stroke-width="0.3"/><ellipse cx="492.50" cy="31.91" rx="5.35" ry="2.6" fill="#b898da" stroke="#8a58b8" stroke-width="0.5"/><path d="M497.85,31.91 L497.85,62.91 A5.35,2.5 0 0 0 508.55,62.91 L508.55,31.91 Z" fill="url(#pcyl)" stroke="#7040a0" stroke-width="0.3"/><ellipse cx="503.20" cy="31.91" rx="5.35" ry="2.6" fill="#b898da" stroke="#8a58b8" stroke-width="0.5"/><path d="M508.55,31.91 L508.55,62.91 A5.35,2.5 0 0 0 519.25,62.91 L519.25,31.91 Z" fill="url(#pcyl)" stroke="#7040a0" stroke-width="0.3"/><rect x="512.60" y="36.41" width="2.6" height="26.50" fill="#24c2de" rx="1.2"/><ellipse cx="513.90" cy="31.91" rx="5.35" ry="2.6" fill="#b898da" stroke="#8a58b8" stroke-width="0.5"/><path d="M449.75,37.78 L449.75,68.78 A5.35,2.5 0 0 0 460.45,68.78 L460.45,37.78 Z" fill="url(#pcyl)" stroke="#7040a0" stroke-width="0.3"/><ellipse cx="455.10" cy="37.78" rx="5.35" ry="2.6" fill="#b898da" stroke="#8a58b8" stroke-width="0.5"/><path d="M460.45,37.78 L460.45,68.78 A5.35,2.5 0 0 0 471.15,68.78 L471.15,37.78 Z" fill="url(#pcyl)" stroke="#7040a0" stroke-width="0.3"/><ellipse cx="465.80" cy="37.78" rx="5.35" ry="2.6" fill="#b898da" stroke="#8a58b8" stroke-width="0.5"/><path d="M471.15,37.78 L471.15,68.78 A5.35,2.5 0 0 0 481.85,68.78 L481.85,37.78 Z" fill="url(#pcyl)" stroke="#7040a0" stroke-width="0.3"/><ellipse cx="476.50" cy="37.78" rx="5.35" ry="2.6" fill="#b898da" stroke="#8a58b8" stroke-width="0.5"/><path d="M481.85,37.78 L481.85,68.78 A5.35,2.5 0 0 0 492.55,68.78 L492.55,37.78 Z" fill="url(#pcyl)" stroke="#7040a0" stroke-width="0.3"/><ellipse cx="487.20" cy="37.78" rx="5.35" ry="2.6" fill="#b898da" stroke="#8a58b8" stroke-width="0.5"/><path d="M492.55,37.78 L492.55,68.78 A5.35,2.5 0 0 0 503.25,68.78 L503.25,37.78 Z" fill="url(#pcyl)" stroke="#7040a0" stroke-width="0.3"/><ellipse cx="497.90" cy="37.78" rx="5.35" ry="2.6" fill="#b898da" stroke="#8a58b8" stroke-width="0.5"/><path d="M503.25,37.78 L503.25,68.78 A5.35,2.5 0 0 0 513.95,68.78 L513.95,37.78 Z" fill="url(#pcyl)" stroke="#7040a0" stroke-width="0.3"/><rect x="507.30" y="42.28" width="2.6" height="26.50" fill="#24c2de" rx="1.2"/><ellipse cx="508.60" cy="37.78" rx="5.35" ry="2.6" fill="#b898da" stroke="#8a58b8" stroke-width="0.5"/><path d="M444.45,43.65 L444.45,74.65 A5.35,2.5 0 0 0 455.15,74.65 L455.15,43.65 Z" fill="url(#pcyl)" stroke="#7040a0" stroke-width="0.3"/><ellipse cx="449.80" cy="43.65" rx="5.35" ry="2.6" fill="#b898da" stroke="#8a58b8" stroke-width="0.5"/><path d="M455.15,43.65 L455.15,74.65 A5.35,2.5 0 0 0 465.85,74.65 L465.85,43.65 Z" fill="url(#pcyl)" stroke="#7040a0" stroke-width="0.3"/><ellipse cx="460.50" cy="43.65" rx="5.35" ry="2.6" fill="#b898da" stroke="#8a58b8" stroke-width="0.5"/><path d="M465.85,43.65 L465.85,74.65 A5.35,2.5 0 0 0 476.55,74.65 L476.55,43.65 Z" fill="url(#pcyl)" stroke="#7040a0" stroke-width="0.3"/><ellipse cx="471.20" cy="43.65" rx="5.35" ry="2.6" fill="#b898da" stroke="#8a58b8" stroke-width="0.5"/><path d="M476.55,43.65 L476.55,74.65 A5.35,2.5 0 0 0 487.25,74.65 L487.25,43.65 Z" fill="url(#pcyl)" stroke="#7040a0" stroke-width="0.3"/><ellipse cx="481.90" cy="43.65" rx="5.35" ry="2.6" fill="#b898da" stroke="#8a58b8" stroke-width="0.5"/><path d="M487.25,43.65 L487.25,74.65 A5.35,2.5 0 0 0 497.95,74.65 L497.95,43.65 Z" fill="url(#pcyl)" stroke="#7040a0" stroke-width="0.3"/><ellipse cx="492.60" cy="43.65" rx="5.35" ry="2.6" fill="#b898da" stroke="#8a58b8" stroke-width="0.5"/><path d="M497.95,43.65 L497.95,74.65 A5.35,2.5 0 0 0 508.65,74.65 L508.65,43.65 Z" fill="url(#pcyl)" stroke="#7040a0" stroke-width="0.3"/><rect x="502.00" y="48.15" width="2.6" height="26.50" fill="#24c2de" rx="1.2"/><ellipse cx="503.30" cy="43.65" rx="5.35" ry="2.6" fill="#b898da" stroke="#8a58b8" stroke-width="0.5"/><path d="M439.15,49.52 L439.15,80.52 A5.35,2.5 0 0 0 449.85,80.52 L449.85,49.52 Z" fill="url(#pcyl)" stroke="#7040a0" stroke-width="0.3"/><ellipse cx="444.50" cy="49.52" rx="5.35" ry="2.6" fill="#b898da" stroke="#8a58b8" stroke-width="0.5"/><path d="M449.85,49.52 L449.85,80.52 A5.35,2.5 0 0 0 460.55,80.52 L460.55,49.52 Z" fill="url(#pcyl)" stroke="#7040a0" stroke-width="0.3"/><ellipse cx="455.20" cy="49.52" rx="5.35" ry="2.6" fill="#b898da" stroke="#8a58b8" stroke-width="0.5"/><path d="M460.55,49.52 L460.55,80.52 A5.35,2.5 0 0 0 471.25,80.52 L471.25,49.52 Z" fill="url(#pcyl)" stroke="#7040a0" stroke-width="0.3"/><ellipse cx="465.90" cy="49.52" rx="5.35" ry="2.6" fill="#b898da" stroke="#8a58b8" stroke-width="0.5"/><path d="M471.25,49.52 L471.25,80.52 A5.35,2.5 0 0 0 481.95,80.52 L481.95,49.52 Z" fill="url(#pcyl)" stroke="#7040a0" stroke-width="0.3"/><ellipse cx="476.60" cy="49.52" rx="5.35" ry="2.6" fill="#b898da" stroke="#8a58b8" stroke-width="0.5"/><path d="M481.95,49.52 L481.95,80.52 A5.35,2.5 0 0 0 492.65,80.52 L492.65,49.52 Z" fill="url(#pcyl)" stroke="#7040a0" stroke-width="0.3"/><ellipse cx="487.30" cy="49.52" rx="5.35" ry="2.6" fill="#b898da" stroke="#8a58b8" stroke-width="0.5"/><path d="M492.65,49.52 L492.65,80.52 A5.35,2.5 0 0 0 503.35,80.52 L503.35,49.52 Z" fill="url(#pcyl)" stroke="#7040a0" stroke-width="0.3"/><rect x="496.70" y="54.02" width="2.6" height="26.50" fill="#24c2de" rx="1.2"/><ellipse cx="498.00" cy="49.52" rx="5.35" ry="2.6" fill="#b898da" stroke="#8a58b8" stroke-width="0.5"/><path d="M433.85,55.39 L433.85,86.39 A5.35,2.5 0 0 0 444.55,86.39 L444.55,55.39 Z" fill="url(#pcyl)" stroke="#7040a0" stroke-width="0.3"/><ellipse cx="439.20" cy="55.39" rx="5.35" ry="2.6" fill="#b898da" stroke="#8a58b8" stroke-width="0.5"/><path d="M444.55,55.39 L444.55,86.39 A5.35,2.5 0 0 0 455.25,86.39 L455.25,55.39 Z" fill="url(#pcyl)" stroke="#7040a0" stroke-width="0.3"/><ellipse cx="449.90" cy="55.39" rx="5.35" ry="2.6" fill="#b898da" stroke="#8a58b8" stroke-width="0.5"/><path d="M455.25,55.39 L455.25,86.39 A5.35,2.5 0 0 0 465.95,86.39 L465.95,55.39 Z" fill="url(#pcyl)" stroke="#7040a0" stroke-width="0.3"/><ellipse cx="460.60" cy="55.39" rx="5.35" ry="2.6" fill="#b898da" stroke="#8a58b8" stroke-width="0.5"/><path d="M465.95,55.39 L465.95,86.39 A5.35,2.5 0 0 0 476.65,86.39 L476.65,55.39 Z" fill="url(#pcyl)" stroke="#7040a0" stroke-width="0.3"/><ellipse cx="471.30" cy="55.39" rx="5.35" ry="2.6" fill="#b898da" stroke="#8a58b8" stroke-width="0.5"/><path d="M476.65,55.39 L476.65,86.39 A5.35,2.5 0 0 0 487.35,86.39 L487.35,55.39 Z" fill="url(#pcyl)" stroke="#7040a0" stroke-width="0.3"/><ellipse cx="482.00" cy="55.39" rx="5.35" ry="2.6" fill="#b898da" stroke="#8a58b8" stroke-width="0.5"/><path d="M487.35,55.39 L487.35,86.39 A5.35,2.5 0 0 0 498.05,86.39 L498.05,55.39 Z" fill="url(#pcyl)" stroke="#7040a0" stroke-width="0.3"/><rect x="491.40" y="59.89" width="2.6" height="26.50" fill="#24c2de" rx="1.2"/><ellipse cx="492.70" cy="55.39" rx="5.35" ry="2.6" fill="#b898da" stroke="#8a58b8" stroke-width="0.5"/><path d="M428.55,61.26 L428.55,92.26 A5.35,2.5 0 0 0 439.25,92.26 L439.25,61.26 Z" fill="url(#pcyl)" stroke="#7040a0" stroke-width="0.3"/><ellipse cx="433.90" cy="61.26" rx="5.35" ry="2.6" fill="#b898da" stroke="#8a58b8" stroke-width="0.5"/><path d="M439.25,61.26 L439.25,92.26 A5.35,2.5 0 0 0 449.95,92.26 L449.95,61.26 Z" fill="url(#pcyl)" stroke="#7040a0" stroke-width="0.3"/><ellipse cx="444.60" cy="61.26" rx="5.35" ry="2.6" fill="#b898da" stroke="#8a58b8" stroke-width="0.5"/><path d="M449.95,61.26 L449.95,92.26 A5.35,2.5 0 0 0 460.65,92.26 L460.65,61.26 Z" fill="url(#pcyl)" stroke="#7040a0" stroke-width="0.3"/><ellipse cx="455.30" cy="61.26" rx="5.35" ry="2.6" fill="#b898da" stroke="#8a58b8" stroke-width="0.5"/><path d="M460.65,61.26 L460.65,92.26 A5.35,2.5 0 0 0 471.35,92.26 L471.35,61.26 Z" fill="url(#pcyl)" stroke="#7040a0" stroke-width="0.3"/><ellipse cx="466.00" cy="61.26" rx="5.35" ry="2.6" fill="#b898da" stroke="#8a58b8" stroke-width="0.5"/><path d="M471.35,61.26 L471.35,92.26 A5.35,2.5 0 0 0 482.05,92.26 L482.05,61.26 Z" fill="url(#pcyl)" stroke="#7040a0" stroke-width="0.3"/><ellipse cx="476.70" cy="61.26" rx="5.35" ry="2.6" fill="#b898da" stroke="#8a58b8" stroke-width="0.5"/><path d="M482.05,61.26 L482.05,92.26 A5.35,2.5 0 0 0 492.75,92.26 L492.75,61.26 Z" fill="url(#pcyl)" stroke="#7040a0" stroke-width="0.3"/><rect x="486.10" y="65.76" width="2.6" height="26.50" fill="#24c2de" rx="1.2"/><ellipse cx="487.40" cy="61.26" rx="5.35" ry="2.6" fill="#b898da" stroke="#8a58b8" stroke-width="0.5"/><path d="M423.25,67.13 L423.25,98.13 A5.35,2.5 0 0 0 433.95,98.13 L433.95,67.13 Z" fill="url(#pcyl)" stroke="#7040a0" stroke-width="0.3"/><ellipse cx="428.60" cy="67.13" rx="5.35" ry="2.6" fill="#b898da" stroke="#8a58b8" stroke-width="0.5"/><path d="M433.95,67.13 L433.95,98.13 A5.35,2.5 0 0 0 444.65,98.13 L444.65,67.13 Z" fill="url(#pcyl)" stroke="#7040a0" stroke-width="0.3"/><ellipse cx="439.30" cy="67.13" rx="5.35" ry="2.6" fill="#b898da" stroke="#8a58b8" stroke-width="0.5"/><path d="M444.65,67.13 L444.65,98.13 A5.35,2.5 0 0 0 455.35,98.13 L455.35,67.13 Z" fill="url(#pcyl)" stroke="#7040a0" stroke-width="0.3"/><ellipse cx="450.00" cy="67.13" rx="5.35" ry="2.6" fill="#b898da" stroke="#8a58b8" stroke-width="0.5"/><path d="M455.35,67.13 L455.35,98.13 A5.35,2.5 0 0 0 466.05,98.13 L466.05,67.13 Z" fill="url(#pcyl)" stroke="#7040a0" stroke-width="0.3"/><ellipse cx="460.70" cy="67.13" rx="5.35" ry="2.6" fill="#b898da" stroke="#8a58b8" stroke-width="0.5"/><path d="M466.05,67.13 L466.05,98.13 A5.35,2.5 0 0 0 476.75,98.13 L476.75,67.13 Z" fill="url(#pcyl)" stroke="#7040a0" stroke-width="0.3"/><ellipse cx="471.40" cy="67.13" rx="5.35" ry="2.6" fill="#b898da" stroke="#8a58b8" stroke-width="0.5"/><path d="M476.75,67.13 L476.75,98.13 A5.35,2.5 0 0 0 487.45,98.13 L487.45,67.13 Z" fill="url(#pcyl)" stroke="#7040a0" stroke-width="0.3"/><rect x="480.80" y="71.63" width="2.6" height="26.50" fill="#24c2de" rx="1.2"/><ellipse cx="482.10" cy="67.13" rx="5.35" ry="2.6" fill="#b898da" stroke="#8a58b8" stroke-width="0.5"/><path d="M417.95,73.00 L417.95,104.00 A5.35,2.5 0 0 0 428.65,104.00 L428.65,73.00 Z" fill="url(#pcyl)" stroke="#7040a0" stroke-width="0.3"/><rect x="422.00" y="77.50" width="2.6" height="26.50" fill="#24c2de" rx="1.2"/><ellipse cx="423.30" cy="73.00" rx="5.35" ry="2.6" fill="#b898da" stroke="#8a58b8" stroke-width="0.5"/><path d="M428.65,73.00 L428.65,104.00 A5.35,2.5 0 0 0 439.35,104.00 L439.35,73.00 Z" fill="url(#pcyl)" stroke="#7040a0" stroke-width="0.3"/><rect x="432.70" y="77.50" width="2.6" height="26.50" fill="#24c2de" rx="1.2"/><ellipse cx="434.00" cy="73.00" rx="5.35" ry="2.6" fill="#b898da" stroke="#8a58b8" stroke-width="0.5"/><path d="M439.35,73.00 L439.35,104.00 A5.35,2.5 0 0 0 450.05,104.00 L450.05,73.00 Z" fill="url(#pcyl)" stroke="#7040a0" stroke-width="0.3"/><rect x="443.40" y="77.50" width="2.6" height="26.50" fill="#24c2de" rx="1.2"/><ellipse cx="444.70" cy="73.00" rx="5.35" ry="2.6" fill="#b898da" stroke="#8a58b8" stroke-width="0.5"/><path d="M450.05,73.00 L450.05,104.00 A5.35,2.5 0 0 0 460.75,104.00 L460.75,73.00 Z" fill="url(#pcyl)" stroke="#7040a0" stroke-width="0.3"/><rect x="454.10" y="77.50" width="2.6" height="26.50" fill="#24c2de" rx="1.2"/><ellipse cx="455.40" cy="73.00" rx="5.35" ry="2.6" fill="#b898da" stroke="#8a58b8" stroke-width="0.5"/><path d="M460.75,73.00 L460.75,104.00 A5.35,2.5 0 0 0 471.45,104.00 L471.45,73.00 Z" fill="url(#pcyl)" stroke="#7040a0" stroke-width="0.3"/><rect x="464.80" y="77.50" width="2.6" height="26.50" fill="#24c2de" rx="1.2"/><ellipse cx="466.10" cy="73.00" rx="5.35" ry="2.6" fill="#b898da" stroke="#8a58b8" stroke-width="0.5"/><path d="M471.45,73.00 L471.45,104.00 A5.35,2.5 0 0 0 482.15,104.00 L482.15,73.00 Z" fill="url(#pcyl)" stroke="#7040a0" stroke-width="0.3"/><rect x="475.50" y="77.50" width="2.6" height="26.50" fill="#24c2de" rx="1.2"/><ellipse cx="476.80" cy="73.00" rx="5.35" ry="2.6" fill="#b898da" stroke="#8a58b8" stroke-width="0.5"/><line x1="526.92" y1="60.28" x2="526.92" y2="35.88" stroke="#26c6e4" stroke-width="1.7"/><line x1="532.27" y1="60.28" x2="532.27" y2="37.30" stroke="#26c6e4" stroke-width="1.7"/><line x1="536.79" y1="60.28" x2="536.79" y2="35.47" stroke="#26c6e4" stroke-width="1.7"/><line x1="540.66" y1="60.28" x2="540.66" y2="36.60" stroke="#26c6e4" stroke-width="1.7"/><line x1="522.42" y1="65.77" x2="522.42" y2="48.36" stroke="#26c6e4" stroke-width="1.7"/><line x1="526.52" y1="65.77" x2="526.52" y2="48.41" stroke="#26c6e4" stroke-width="1.7"/><line x1="531.64" y1="65.77" x2="531.64" y2="39.37" stroke="#26c6e4" stroke-width="1.7"/><line x1="535.23" y1="65.77" x2="535.23" y2="35.04" stroke="#26c6e4" stroke-width="1.7"/><polygon points="518,42.8 535.5,42.8 535.5,69.7 518,69.7" fill="#35a052" fill-opacity="0.9"/><polygon points="535.5,42.8 543.6,28 543.6,57.6 535.5,69.7" fill="#2c8a4a" fill-opacity="0.88"/><polygon points="518,42.8 530.1,28 543.6,28 535.5,42.8" fill="#80c282" fill-opacity="0.95"/><line x1="521.50" y1="69.50" x2="521.50" y2="50.00" stroke="#1fb07a" stroke-width="1.4"/><line x1="526.00" y1="69.50" x2="526.00" y2="46.00" stroke="#1fb07a" stroke-width="1.4"/><line x1="530.50" y1="69.50" x2="530.50" y2="52.00" stroke="#1fb07a" stroke-width="1.4"/><line x1="533.50" y1="69.50" x2="533.50" y2="47.00" stroke="#1fb07a" stroke-width="1.4"/><line x1="539.00" y1="62.00" x2="539.00" y2="44.00" stroke="#1fb07a" stroke-width="1.4"/><line x1="541.50" y1="62.00" x2="541.50" y2="40.00" stroke="#1fb07a" stroke-width="1.4"/><line x1="516.95" y1="71.26" x2="516.95" y2="46.03" stroke="#26c6e4" stroke-width="1.7"/><line x1="520.76" y1="71.26" x2="520.76" y2="55.03" stroke="#26c6e4" stroke-width="1.7"/><line x1="525.32" y1="71.26" x2="525.32" y2="54.37" stroke="#26c6e4" stroke-width="1.7"/><line x1="529.20" y1="71.26" x2="529.20" y2="51.63" stroke="#26c6e4" stroke-width="1.7"/><line x1="511.38" y1="76.75" x2="511.38" y2="54.14" stroke="#26c6e4" stroke-width="1.7"/><line x1="516.56" y1="76.75" x2="516.56" y2="52.96" stroke="#26c6e4" stroke-width="1.7"/><line x1="521.34" y1="76.75" x2="521.34" y2="53.25" stroke="#26c6e4" stroke-width="1.7"/><line x1="506.17" y1="82.24" x2="506.17" y2="62.07" stroke="#26c6e4" stroke-width="1.7"/><line x1="511.67" y1="82.24" x2="511.67" y2="51.30" stroke="#26c6e4" stroke-width="1.7"/><line x1="516.85" y1="82.24" x2="516.85" y2="55.62" stroke="#26c6e4" stroke-width="1.7"/><line x1="500.53" y1="87.73" x2="500.53" y2="67.39" stroke="#26c6e4" stroke-width="1.7"/><line x1="504.17" y1="87.73" x2="504.17" y2="60.24" stroke="#26c6e4" stroke-width="1.7"/><line x1="508.47" y1="87.73" x2="508.47" y2="59.03" stroke="#26c6e4" stroke-width="1.7"/><line x1="512.74" y1="87.73" x2="512.74" y2="57.36" stroke="#26c6e4" stroke-width="1.7"/><line x1="494.88" y1="93.22" x2="494.88" y2="74.07" stroke="#26c6e4" stroke-width="1.7"/><line x1="500.20" y1="93.22" x2="500.20" y2="70.17" stroke="#26c6e4" stroke-width="1.7"/><line x1="505.66" y1="93.22" x2="505.66" y2="71.26" stroke="#26c6e4" stroke-width="1.7"/><line x1="509.31" y1="93.22" x2="509.31" y2="67.78" stroke="#26c6e4" stroke-width="1.7"/><line x1="490.23" y1="98.71" x2="490.23" y2="81.40" stroke="#26c6e4" stroke-width="1.7"/><line x1="494.39" y1="98.71" x2="494.39" y2="68.25" stroke="#26c6e4" stroke-width="1.7"/><line x1="499.41" y1="98.71" x2="499.41" y2="80.94" stroke="#26c6e4" stroke-width="1.7"/><line x1="503.40" y1="98.71" x2="503.40" y2="81.19" stroke="#26c6e4" stroke-width="1.7"/><line x1="486.09" y1="104.20" x2="486.09" y2="85.53" stroke="#26c6e4" stroke-width="1.7"/><line x1="490.71" y1="104.20" x2="490.71" y2="81.49" stroke="#26c6e4" stroke-width="1.7"/><line x1="494.59" y1="104.20" x2="494.59" y2="77.22" stroke="#26c6e4" stroke-width="1.7"/><line x1="498.36" y1="104.20" x2="498.36" y2="78.54" stroke="#26c6e4" stroke-width="1.7"/><rect x="463.6" y="22.3" width="11.9" height="16.3" fill="#ff8a3a" stroke="none" stroke-width="1"/><polygon points="457.3,38.6 481.8,38.6 469.2,53.4" fill="#ff9050" fill-opacity="0.45" stroke="#ff7a3a" stroke-width="0.8"/><text x="470.5" y="19.3" font-family="Liberation Serif, serif" font-size="9" font-weight="bold" text-anchor="middle" fill="#222" textLength="15.5" lengthAdjust="spacingAndGlyphs">Light</text><ellipse cx="491.8" cy="35.5" rx="10" ry="3.2" fill="#e89a20"/><ellipse cx="491.8" cy="33.3" rx="10" ry="3" fill="#f6b440"/><text x="495.5" y="32.5" font-family="Liberation Sans, sans-serif" font-size="7.5" font-weight="bold" text-anchor="middle" fill="#111" textLength="9" lengthAdjust="spacingAndGlyphs">Au</text><polyline points="490.00,29.50 490.00,17.30 497.00,17.30" fill="none" stroke="#5b95c4" stroke-width="0.8" stroke-linejoin="round" stroke-linecap="round"/><polyline points="525.80,17.30 533.60,17.30 533.60,31.40" fill="none" stroke="#5b95c4" stroke-width="0.8" stroke-linejoin="round" stroke-linecap="round"/><text x="511.4" y="17.8" font-family="Liberation Serif, serif" font-size="4" font-weight="bold" text-anchor="middle" fill="#222" textLength="26" lengthAdjust="spacingAndGlyphs">Signal Output</text><text x="538.7" y="30.5" font-family="Liberation Sans, sans-serif" font-size="7.5" font-weight="bold" text-anchor="middle" fill="#111" textLength="6.5" lengthAdjust="spacingAndGlyphs">In</text><rect x="407.5" y="143.2" width="134.0" height="115.10000000000002" fill="none" stroke="#222" stroke-width="1.1"/><line x1="474.40" y1="143.20" x2="474.40" y2="258.30" stroke="#222" stroke-width="1.0"/><line x1="407.50" y1="242.80" x2="541.50" y2="242.80" stroke="#222" stroke-width="1.0"/><line x1="422.83" y1="258.30" x2="422.83" y2="255.80" stroke="#222" stroke-width="0.8"/><text x="422.83" y="267.4" font-family="Liberation Sans, sans-serif" font-size="6.4" font-weight="bold" text-anchor="middle" fill="#222">-9</text><line x1="440.02" y1="258.30" x2="440.02" y2="255.80" stroke="#222" stroke-width="0.8"/><text x="440.02" y="267.4" font-family="Liberation Sans, sans-serif" font-size="6.4" font-weight="bold" text-anchor="middle" fill="#222">-6</text><line x1="457.21" y1="258.30" x2="457.21" y2="255.80" stroke="#222" stroke-width="0.8"/><text x="457.21" y="267.4" font-family="Liberation Sans, sans-serif" font-size="6.4" font-weight="bold" text-anchor="middle" fill="#222">-3</text><line x1="474.40" y1="258.30" x2="474.40" y2="255.80" stroke="#222" stroke-width="0.8"/><text x="474.4" y="267.4" font-family="Liberation Sans, sans-serif" font-size="6.4" font-weight="bold" text-anchor="middle" fill="#222">0</text><line x1="491.59" y1="258.30" x2="491.59" y2="255.80" stroke="#222" stroke-width="0.8"/><text x="491.59" y="267.4" font-family="Liberation Sans, sans-serif" font-size="6.4" font-weight="bold" text-anchor="middle" fill="#222">3</text><line x1="508.78" y1="258.30" x2="508.78" y2="255.80" stroke="#222" stroke-width="0.8"/><text x="508.78" y="267.4" font-family="Liberation Sans, sans-serif" font-size="6.4" font-weight="bold" text-anchor="middle" fill="#222">6</text><line x1="525.97" y1="258.30" x2="525.97" y2="255.80" stroke="#222" stroke-width="0.8"/><text x="525.97" y="267.4" font-family="Liberation Sans, sans-serif" font-size="6.4" font-weight="bold" text-anchor="middle" fill="#222">9</text><line x1="414.23" y1="258.30" x2="414.23" y2="256.80" stroke="#222" stroke-width="0.7"/><line x1="431.42" y1="258.30" x2="431.42" y2="256.80" stroke="#222" stroke-width="0.7"/><line x1="448.61" y1="258.30" x2="448.61" y2="256.80" stroke="#222" stroke-width="0.7"/><line x1="465.80" y1="258.30" x2="465.80" y2="256.80" stroke="#222" stroke-width="0.7"/><line x1="483.00" y1="258.30" x2="483.00" y2="256.80" stroke="#222" stroke-width="0.7"/><line x1="500.19" y1="258.30" x2="500.19" y2="256.80" stroke="#222" stroke-width="0.7"/><line x1="517.38" y1="258.30" x2="517.38" y2="256.80" stroke="#222" stroke-width="0.7"/><line x1="534.56" y1="258.30" x2="534.56" y2="256.80" stroke="#222" stroke-width="0.7"/><line x1="407.50" y1="242.80" x2="410.00" y2="242.80" stroke="#222" stroke-width="0.8"/><text x="404.2" y="244.4" font-family="Liberation Sans, sans-serif" font-size="4.6" font-weight="bold" text-anchor="end" fill="#222" textLength="8.5" lengthAdjust="spacingAndGlyphs">0.00</text><line x1="407.50" y1="214.46" x2="410.00" y2="214.46" stroke="#222" stroke-width="0.8"/><text x="404.2" y="216.06" font-family="Liberation Sans, sans-serif" font-size="4.6" font-weight="bold" text-anchor="end" fill="#222" textLength="8.5" lengthAdjust="spacingAndGlyphs">0.02</text><line x1="407.50" y1="186.12" x2="410.00" y2="186.12" stroke="#222" stroke-width="0.8"/><text x="404.2" y="187.72" font-family="Liberation Sans, sans-serif" font-size="4.6" font-weight="bold" text-anchor="end" fill="#222" textLength="8.5" lengthAdjust="spacingAndGlyphs">0.04</text><line x1="407.50" y1="157.78" x2="410.00" y2="157.78" stroke="#222" stroke-width="0.8"/><text x="404.2" y="159.38000000000002" font-family="Liberation Sans, sans-serif" font-size="4.6" font-weight="bold" text-anchor="end" fill="#222" textLength="8.5" lengthAdjust="spacingAndGlyphs">0.06</text><line x1="407.50" y1="256.97" x2="409.00" y2="256.97" stroke="#222" stroke-width="0.7"/><line x1="407.50" y1="228.63" x2="409.00" y2="228.63" stroke="#222" stroke-width="0.7"/><line x1="407.50" y1="200.29" x2="409.00" y2="200.29" stroke="#222" stroke-width="0.7"/><line x1="407.50" y1="171.95" x2="409.00" y2="171.95" stroke="#222" stroke-width="0.7"/><text x="478.2" y="275.3" font-family="Liberation Sans, sans-serif" font-size="8.2" font-weight="bold" text-anchor="middle" fill="#222" textLength="42.6" lengthAdjust="spacingAndGlyphs">Voltage (V)</text><text x="391.4" y="200.2" font-family="Liberation Sans, sans-serif" font-size="9.2" font-weight="bold" text-anchor="middle" fill="#222" textLength="56.5" lengthAdjust="spacingAndGlyphs" transform="rotate(-90 391.4 200.2)">Current (mA)</text><circle cx="407.93" cy="243.57" r="1.6" fill="#fff" stroke="#9fb1d6" stroke-width="0.8"/><circle cx="410.34" cy="243.24" r="1.6" fill="#fff" stroke="#9fb1d6" stroke-width="0.8"/><circle cx="412.75" cy="243.33" r="1.6" fill="#fff" stroke="#9fb1d6" stroke-width="0.8"/><circle cx="415.15" cy="244.45" r="1.6" fill="#fff" stroke="#9fb1d6" stroke-width="0.8"/><circle cx="417.56" cy="244.19" r="1.6" fill="#fff" stroke="#9fb1d6" stroke-width="0.8"/><circle cx="419.96" cy="243.39" r="1.6" fill="#fff" stroke="#9fb1d6" stroke-width="0.8"/><circle cx="422.37" cy="244.32" r="1.6" fill="#fff" stroke="#9fb1d6" stroke-width="0.8"/><circle cx="424.78" cy="243.24" r="1.6" fill="#fff" stroke="#9fb1d6" stroke-width="0.8"/><circle cx="427.18" cy="243.53" r="1.6" fill="#fff" stroke="#9fb1d6" stroke-width="0.8"/><circle cx="429.59" cy="244.27" r="1.6" fill="#fff" stroke="#9fb1d6" stroke-width="0.8"/><circle cx="432.00" cy="243.93" r="1.6" fill="#fff" stroke="#9fb1d6" stroke-width="0.8"/><circle cx="434.40" cy="243.06" r="1.6" fill="#fff" stroke="#9fb1d6" stroke-width="0.8"/><circle cx="436.81" cy="244.48" r="1.6" fill="#fff" stroke="#9fb1d6" stroke-width="0.8"/><circle cx="439.22" cy="243.24" r="1.6" fill="#fff" stroke="#9fb1d6" stroke-width="0.8"/><circle cx="441.62" cy="243.31" r="1.6" fill="#fff" stroke="#9fb1d6" stroke-width="0.8"/><circle cx="444.03" cy="244.14" r="1.6" fill="#fff" stroke="#9fb1d6" stroke-width="0.8"/><circle cx="446.44" cy="243.43" r="1.6" fill="#fff" stroke="#9fb1d6" stroke-width="0.8"/><circle cx="448.84" cy="243.37" r="1.6" fill="#fff" stroke="#9fb1d6" stroke-width="0.8"/><circle cx="451.25" cy="243.02" r="1.6" fill="#fff" stroke="#9fb1d6" stroke-width="0.8"/><circle cx="453.66" cy="243.04" r="1.6" fill="#fff" stroke="#9fb1d6" stroke-width="0.8"/><circle cx="456.06" cy="243.83" r="1.6" fill="#fff" stroke="#9fb1d6" stroke-width="0.8"/><circle cx="458.47" cy="243.29" r="1.6" fill="#fff" stroke="#9fb1d6" stroke-width="0.8"/><circle cx="460.88" cy="243.86" r="1.6" fill="#fff" stroke="#9fb1d6" stroke-width="0.8"/><circle cx="463.28" cy="243.49" r="1.6" fill="#fff" stroke="#9fb1d6" stroke-width="0.8"/><circle cx="465.69" cy="243.63" r="1.6" fill="#fff" stroke="#9fb1d6" stroke-width="0.8"/><circle cx="468.10" cy="244.43" r="1.6" fill="#fff" stroke="#9fb1d6" stroke-width="0.8"/><circle cx="470.50" cy="243.67" r="1.6" fill="#fff" stroke="#9fb1d6" stroke-width="0.8"/><circle cx="472.91" cy="243.82" r="1.6" fill="#fff" stroke="#9fb1d6" stroke-width="0.8"/><circle cx="475.32" cy="244.29" r="1.6" fill="#fff" stroke="#9fb1d6" stroke-width="0.8"/><circle cx="477.72" cy="243.19" r="1.6" fill="#fff" stroke="#9fb1d6" stroke-width="0.8"/><circle cx="480.13" cy="243.15" r="1.6" fill="#fff" stroke="#9fb1d6" stroke-width="0.8"/><circle cx="478.00" cy="244.20" r="1.6" fill="#fff" stroke="#9fb1d6" stroke-width="0.8"/><circle cx="479.53" cy="243.99" r="1.6" fill="#fff" stroke="#9fb1d6" stroke-width="0.8"/><circle cx="481.01" cy="243.53" r="1.6" fill="#fff" stroke="#9fb1d6" stroke-width="0.8"/><circle cx="482.19" cy="242.58" r="1.6" fill="#fff" stroke="#9fb1d6" stroke-width="0.8"/><circle cx="483.10" cy="241.22" r="1.6" fill="#fff" stroke="#9fb1d6" stroke-width="0.8"/><circle cx="483.96" cy="239.97" r="1.6" fill="#fff" stroke="#9fb1d6" stroke-width="0.8"/><circle cx="485.00" cy="238.50" r="1.6" fill="#fff" stroke="#9fb1d6" stroke-width="0.8"/><circle cx="486.01" cy="237.10" r="1.6" fill="#fff" stroke="#9fb1d6" stroke-width="0.8"/><circle cx="487.18" cy="235.48" r="1.6" fill="#fff" stroke="#9fb1d6" stroke-width="0.8"/><circle cx="488.50" cy="233.67" r="1.6" fill="#fff" stroke="#9fb1d6" stroke-width="0.8"/><circle cx="489.44" cy="232.36" r="1.6" fill="#fff" stroke="#9fb1d6" stroke-width="0.8"/><circle cx="490.43" cy="230.99" r="1.6" fill="#fff" stroke="#9fb1d6" stroke-width="0.8"/><circle cx="491.47" cy="229.55" r="1.6" fill="#fff" stroke="#9fb1d6" stroke-width="0.8"/><circle cx="492.54" cy="228.06" r="1.6" fill="#fff" stroke="#9fb1d6" stroke-width="0.8"/><circle cx="493.64" cy="226.52" r="1.6" fill="#fff" stroke="#9fb1d6" stroke-width="0.8"/><circle cx="494.77" cy="224.94" r="1.6" fill="#fff" stroke="#9fb1d6" stroke-width="0.8"/><circle cx="495.92" cy="223.32" r="1.6" fill="#fff" stroke="#9fb1d6" stroke-width="0.8"/><circle cx="497.08" cy="221.68" r="1.6" fill="#fff" stroke="#9fb1d6" stroke-width="0.8"/><circle cx="498.25" cy="220.02" r="1.6" fill="#fff" stroke="#9fb1d6" stroke-width="0.8"/><circle cx="499.42" cy="218.34" r="1.6" fill="#fff" stroke="#9fb1d6" stroke-width="0.8"/><circle cx="500.59" cy="216.65" r="1.6" fill="#fff" stroke="#9fb1d6" stroke-width="0.8"/><circle cx="501.79" cy="214.90" r="1.6" fill="#fff" stroke="#9fb1d6" stroke-width="0.8"/><circle cx="503.03" cy="213.09" r="1.6" fill="#fff" stroke="#9fb1d6" stroke-width="0.8"/><circle cx="504.30" cy="211.23" r="1.6" fill="#fff" stroke="#9fb1d6" stroke-width="0.8"/><circle cx="505.60" cy="209.32" r="1.6" fill="#fff" stroke="#9fb1d6" stroke-width="0.8"/><circle cx="506.92" cy="207.37" r="1.6" fill="#fff" stroke="#9fb1d6" stroke-width="0.8"/><circle cx="508.27" cy="205.39" r="1.6" fill="#fff" stroke="#9fb1d6" stroke-width="0.8"/><circle cx="509.62" cy="203.38" r="1.6" fill="#fff" stroke="#9fb1d6" stroke-width="0.8"/><circle cx="511.00" cy="201.34" r="1.6" fill="#fff" stroke="#9fb1d6" stroke-width="0.8"/><circle cx="512.38" cy="199.29" r="1.6" fill="#fff" stroke="#9fb1d6" stroke-width="0.8"/><circle cx="513.77" cy="197.23" r="1.6" fill="#fff" stroke="#9fb1d6" stroke-width="0.8"/><circle cx="515.16" cy="195.16" r="1.6" fill="#fff" stroke="#9fb1d6" stroke-width="0.8"/><circle cx="516.55" cy="193.10" r="1.6" fill="#fff" stroke="#9fb1d6" stroke-width="0.8"/><circle cx="517.94" cy="191.05" r="1.6" fill="#fff" stroke="#9fb1d6" stroke-width="0.8"/><circle cx="519.32" cy="189.01" r="1.6" fill="#fff" stroke="#9fb1d6" stroke-width="0.8"/><circle cx="520.70" cy="186.97" r="1.6" fill="#fff" stroke="#9fb1d6" stroke-width="0.8"/><circle cx="522.15" cy="184.82" r="1.6" fill="#fff" stroke="#9fb1d6" stroke-width="0.8"/><circle cx="523.69" cy="182.56" r="1.6" fill="#fff" stroke="#9fb1d6" stroke-width="0.8"/><circle cx="525.27" cy="180.22" r="1.6" fill="#fff" stroke="#9fb1d6" stroke-width="0.8"/><circle cx="526.89" cy="177.83" r="1.6" fill="#fff" stroke="#9fb1d6" stroke-width="0.8"/><circle cx="528.52" cy="175.42" r="1.6" fill="#fff" stroke="#9fb1d6" stroke-width="0.8"/><circle cx="530.15" cy="173.02" r="1.6" fill="#fff" stroke="#9fb1d6" stroke-width="0.8"/><circle cx="531.75" cy="170.66" r="1.6" fill="#fff" stroke="#9fb1d6" stroke-width="0.8"/><circle cx="533.31" cy="168.36" r="1.6" fill="#fff" stroke="#9fb1d6" stroke-width="0.8"/><circle cx="534.80" cy="166.15" r="1.6" fill="#fff" stroke="#9fb1d6" stroke-width="0.8"/><circle cx="536.21" cy="164.07" r="1.6" fill="#fff" stroke="#9fb1d6" stroke-width="0.8"/><circle cx="537.52" cy="162.14" r="1.6" fill="#fff" stroke="#9fb1d6" stroke-width="0.8"/><circle cx="538.70" cy="160.39" r="1.6" fill="#fff" stroke="#9fb1d6" stroke-width="0.8"/><circle cx="539.75" cy="158.85" r="1.6" fill="#fff" stroke="#9fb1d6" stroke-width="0.8"/><circle cx="540.63" cy="157.55" r="1.6" fill="#fff" stroke="#9fb1d6" stroke-width="0.8"/><line x1="484.30" y1="243.00" x2="541.00" y2="160.50" stroke="#e03030" stroke-width="1.1" stroke-dasharray="4,1.2,1,1.2"/><rect x="420.2" y="154.9" width="50.60000000000002" height="58.599999999999994" fill="#fff" stroke="#333" stroke-width="0.8"/><line x1="420.20" y1="184.40" x2="470.80" y2="184.40" stroke="#333" stroke-width="0.7"/><line x1="445.40" y1="154.90" x2="445.40" y2="213.50" stroke="#333" stroke-width="0.7"/><line x1="421.00" y1="212.50" x2="469.50" y2="158.80" stroke="#f06868" stroke-width="1.1" stroke-dasharray="2.3,2"/><line x1="420.20" y1="190.60" x2="470.80" y2="177.30" stroke="#4a6cc0" stroke-width="0.9"/><line x1="423.60" y1="160.70" x2="429.40" y2="160.70" stroke="#f06868" stroke-width="1.0" stroke-dasharray="2.2,1.5"/><line x1="423.60" y1="164.60" x2="429.40" y2="164.60" stroke="#4a6cc0" stroke-width="0.9"/><text x="432.3" y="161.8" font-family="Liberation Sans, sans-serif" font-size="3.3" text-anchor="start" fill="#333" textLength="9" lengthAdjust="spacingAndGlyphs">In-ZnO</text><text x="432.3" y="165.7" font-family="Liberation Sans, sans-serif" font-size="3.3" text-anchor="start" fill="#333" textLength="9.5" lengthAdjust="spacingAndGlyphs">Au-NiO</text><text x="419" y="160.9" font-family="Liberation Sans, sans-serif" font-size="3.2" text-anchor="end" fill="#333">0.6</text><line x1="420.20" y1="159.80" x2="421.20" y2="159.80" stroke="#333" stroke-width="0.5"/><text x="419" y="169.03" font-family="Liberation Sans, sans-serif" font-size="3.2" text-anchor="end" fill="#333">0.4</text><line x1="420.20" y1="167.93" x2="421.20" y2="167.93" stroke="#333" stroke-width="0.5"/><text x="419" y="177.16" font-family="Liberation Sans, sans-serif" font-size="3.2" text-anchor="end" fill="#333">0.2</text><line x1="420.20" y1="176.06" x2="421.20" y2="176.06" stroke="#333" stroke-width="0.5"/><text x="419" y="185.29" font-family="Liberation Sans, sans-serif" font-size="3.2" text-anchor="end" fill="#333">0.0</text><line x1="420.20" y1="184.19" x2="421.20" y2="184.19" stroke="#333" stroke-width="0.5"/><text x="419" y="193.42000000000002" font-family="Liberation Sans, sans-serif" font-size="3.2" text-anchor="end" fill="#333">-0.2</text><line x1="420.20" y1="192.32" x2="421.20" y2="192.32" stroke="#333" stroke-width="0.5"/><text x="419" y="201.55" font-family="Liberation Sans, sans-serif" font-size="3.2" text-anchor="end" fill="#333">-0.4</text><line x1="420.20" y1="200.45" x2="421.20" y2="200.45" stroke="#333" stroke-width="0.5"/><text x="419" y="209.68" font-family="Liberation Sans, sans-serif" font-size="3.2" text-anchor="end" fill="#333">-0.6</text><line x1="420.20" y1="208.58" x2="421.20" y2="208.58" stroke="#333" stroke-width="0.5"/><text x="422.2" y="218.6" font-family="Liberation Sans, sans-serif" font-size="3.4" text-anchor="middle" fill="#333">-8</text><line x1="422.20" y1="213.50" x2="422.20" y2="212.50" stroke="#333" stroke-width="0.5"/><text x="428.06" y="218.6" font-family="Liberation Sans, sans-serif" font-size="3.4" text-anchor="middle" fill="#333">-6</text><line x1="428.06" y1="213.50" x2="428.06" y2="212.50" stroke="#333" stroke-width="0.5"/><text x="433.92" y="218.6" font-family="Liberation Sans, sans-serif" font-size="3.4" text-anchor="middle" fill="#333">-4</text><line x1="433.92" y1="213.50" x2="433.92" y2="212.50" stroke="#333" stroke-width="0.5"/><text x="439.78" y="218.6" font-family="Liberation Sans, sans-serif" font-size="3.4" text-anchor="middle" fill="#333">-2</text><line x1="439.78" y1="213.50" x2="439.78" y2="212.50" stroke="#333" stroke-width="0.5"/><text x="445.64" y="218.6" font-family="Liberation Sans, sans-serif" font-size="3.4" text-anchor="middle" fill="#333">0</text><line x1="445.64" y1="213.50" x2="445.64" y2="212.50" stroke="#333" stroke-width="0.5"/><text x="451.5" y="218.6" font-family="Liberation Sans, sans-serif" font-size="3.4" text-anchor="middle" fill="#333">2</text><line x1="451.50" y1="213.50" x2="451.50" y2="212.50" stroke="#333" stroke-width="0.5"/><text x="457.36" y="218.6" font-family="Liberation Sans, sans-serif" font-size="3.4" text-anchor="middle" fill="#333">4</text><line x1="457.36" y1="213.50" x2="457.36" y2="212.50" stroke="#333" stroke-width="0.5"/><text x="463.21999999999997" y="218.6" font-family="Liberation Sans, sans-serif" font-size="3.4" text-anchor="middle" fill="#333">6</text><line x1="463.22" y1="213.50" x2="463.22" y2="212.50" stroke="#333" stroke-width="0.5"/><text x="469.08" y="218.6" font-family="Liberation Sans, sans-serif" font-size="3.4" text-anchor="middle" fill="#333">8</text><line x1="469.08" y1="213.50" x2="469.08" y2="212.50" stroke="#333" stroke-width="0.5"/><text x="445.5" y="224.6" font-family="Liberation Sans, sans-serif" font-size="4.4" text-anchor="middle" fill="#333" textLength="20.5" lengthAdjust="spacingAndGlyphs">Voltage (V)</text><text x="413.2" y="185.9" font-family="Liberation Sans, sans-serif" font-size="4.2" text-anchor="middle" fill="#333" textLength="27" lengthAdjust="spacingAndGlyphs" transform="rotate(-90 413.2 185.9)">Current (mA)</text><line x1="407.20" y1="294.60" x2="527.40" y2="294.60" stroke="#9a9a9a" stroke-width="1.3"/><line x1="407.20" y1="294.60" x2="407.20" y2="387.80" stroke="#333" stroke-width="1.1"/><line x1="527.40" y1="294.60" x2="527.40" y2="387.80" stroke="#222" stroke-width="1.1"/><line x1="407.20" y1="387.80" x2="527.40" y2="387.80" stroke="#222" stroke-width="1.1"/><line x1="414.70" y1="387.80" x2="414.70" y2="385.60" stroke="#222" stroke-width="0.8"/><text x="414.7" y="394" font-family="Liberation Sans, sans-serif" font-size="4.7" font-weight="bold" text-anchor="middle" fill="#222">280</text><line x1="428.97" y1="387.80" x2="428.97" y2="385.60" stroke="#222" stroke-width="0.8"/><text x="428.972" y="394" font-family="Liberation Sans, sans-serif" font-size="4.7" font-weight="bold" text-anchor="middle" fill="#222">320</text><line x1="443.24" y1="387.80" x2="443.24" y2="385.60" stroke="#222" stroke-width="0.8"/><text x="443.24399999999997" y="394" font-family="Liberation Sans, sans-serif" font-size="4.7" font-weight="bold" text-anchor="middle" fill="#222">360</text><line x1="457.52" y1="387.80" x2="457.52" y2="385.60" stroke="#222" stroke-width="0.8"/><text x="457.51599999999996" y="394" font-family="Liberation Sans, sans-serif" font-size="4.7" font-weight="bold" text-anchor="middle" fill="#222">400</text><line x1="471.79" y1="387.80" x2="471.79" y2="385.60" stroke="#222" stroke-width="0.8"/><text x="471.788" y="394" font-family="Liberation Sans, sans-serif" font-size="4.7" font-weight="bold" text-anchor="middle" fill="#222">440</text><line x1="486.06" y1="387.80" x2="486.06" y2="385.60" stroke="#222" stroke-width="0.8"/><text x="486.06" y="394" font-family="Liberation Sans, sans-serif" font-size="4.7" font-weight="bold" text-anchor="middle" fill="#222">480</text><line x1="500.33" y1="387.80" x2="500.33" y2="385.60" stroke="#222" stroke-width="0.8"/><text x="500.332" y="394" font-family="Liberation Sans, sans-serif" font-size="4.7" font-weight="bold" text-anchor="middle" fill="#222">520</text><line x1="514.60" y1="387.80" x2="514.60" y2="385.60" stroke="#222" stroke-width="0.8"/><text x="514.604" y="394" font-family="Liberation Sans, sans-serif" font-size="4.7" font-weight="bold" text-anchor="middle" fill="#222">560</text><line x1="407.56" y1="387.80" x2="407.56" y2="386.50" stroke="#222" stroke-width="0.6"/><line x1="421.84" y1="387.80" x2="421.84" y2="386.50" stroke="#222" stroke-width="0.6"/><line x1="436.11" y1="387.80" x2="436.11" y2="386.50" stroke="#222" stroke-width="0.6"/><line x1="450.38" y1="387.80" x2="450.38" y2="386.50" stroke="#222" stroke-width="0.6"/><line x1="464.65" y1="387.80" x2="464.65" y2="386.50" stroke="#222" stroke-width="0.6"/><line x1="478.92" y1="387.80" x2="478.92" y2="386.50" stroke="#222" stroke-width="0.6"/><line x1="493.20" y1="387.80" x2="493.20" y2="386.50" stroke="#222" stroke-width="0.6"/><line x1="507.47" y1="387.80" x2="507.47" y2="386.50" stroke="#222" stroke-width="0.6"/><line x1="521.74" y1="387.80" x2="521.74" y2="386.50" stroke="#222" stroke-width="0.6"/><line x1="407.20" y1="371.65" x2="409.20" y2="371.65" stroke="#222" stroke-width="0.7"/><text x="405" y="372.84999999999997" font-family="Liberation Sans, sans-serif" font-size="3.4" font-weight="bold" text-anchor="end" fill="#222">1.0x10<tspan font-size="2.8" dy="-2">-7</tspan></text><line x1="407.20" y1="355.80" x2="409.20" y2="355.80" stroke="#222" stroke-width="0.7"/><text x="405" y="357.0" font-family="Liberation Sans, sans-serif" font-size="3.4" font-weight="bold" text-anchor="end" fill="#222">2.0x10<tspan font-size="2.8" dy="-2">-7</tspan></text><line x1="407.20" y1="339.95" x2="409.20" y2="339.95" stroke="#222" stroke-width="0.7"/><text x="405" y="341.15" font-family="Liberation Sans, sans-serif" font-size="3.4" font-weight="bold" text-anchor="end" fill="#222">3.0x10<tspan font-size="2.8" dy="-2">-7</tspan></text><line x1="407.20" y1="324.10" x2="409.20" y2="324.10" stroke="#222" stroke-width="0.7"/><text x="405" y="325.3" font-family="Liberation Sans, sans-serif" font-size="3.4" font-weight="bold" text-anchor="end" fill="#222">4.0x10<tspan font-size="2.8" dy="-2">-7</tspan></text><line x1="407.20" y1="308.25" x2="409.20" y2="308.25" stroke="#222" stroke-width="0.7"/><text x="405" y="309.45" font-family="Liberation Sans, sans-serif" font-size="3.4" font-weight="bold" text-anchor="end" fill="#222">5.0x10<tspan font-size="2.8" dy="-2">-7</tspan></text><line x1="407.20" y1="379.57" x2="408.40" y2="379.57" stroke="#222" stroke-width="0.6"/><line x1="407.20" y1="363.73" x2="408.40" y2="363.73" stroke="#222" stroke-width="0.6"/><line x1="407.20" y1="347.88" x2="408.40" y2="347.88" stroke="#222" stroke-width="0.6"/><line x1="407.20" y1="332.02" x2="408.40" y2="332.02" stroke="#222" stroke-width="0.6"/><line x1="407.20" y1="316.18" x2="408.40" y2="316.18" stroke="#222" stroke-width="0.6"/><line x1="407.20" y1="300.32" x2="408.40" y2="300.32" stroke="#222" stroke-width="0.6"/><text x="404" y="388.7" font-family="Liberation Sans, sans-serif" font-size="3.4" font-weight="bold" text-anchor="end" fill="#222">0.0</text><line x1="527.40" y1="387.50" x2="525.40" y2="387.50" stroke="#222" stroke-width="0.7"/><text x="530" y="388.8" font-family="Liberation Sans, sans-serif" font-size="3.6" font-weight="bold" text-anchor="start" fill="#222">0</text><line x1="527.40" y1="370.76" x2="525.40" y2="370.76" stroke="#222" stroke-width="0.7"/><text x="530" y="372.06" font-family="Liberation Sans, sans-serif" font-size="3.6" font-weight="bold" text-anchor="start" fill="#222">20</text><line x1="527.40" y1="354.02" x2="525.40" y2="354.02" stroke="#222" stroke-width="0.7"/><text x="530" y="355.32" font-family="Liberation Sans, sans-serif" font-size="3.6" font-weight="bold" text-anchor="start" fill="#222">40</text><line x1="527.40" y1="337.28" x2="525.40" y2="337.28" stroke="#222" stroke-width="0.7"/><text x="530" y="338.58" font-family="Liberation Sans, sans-serif" font-size="3.6" font-weight="bold" text-anchor="start" fill="#222">60</text><line x1="527.40" y1="320.54" x2="525.40" y2="320.54" stroke="#222" stroke-width="0.7"/><text x="530" y="321.84000000000003" font-family="Liberation Sans, sans-serif" font-size="3.6" font-weight="bold" text-anchor="start" fill="#222">80</text><line x1="527.40" y1="303.80" x2="525.40" y2="303.80" stroke="#222" stroke-width="0.7"/><text x="530" y="305.1" font-family="Liberation Sans, sans-serif" font-size="3.6" font-weight="bold" text-anchor="start" fill="#222">100</text><line x1="527.40" y1="379.13" x2="526.20" y2="379.13" stroke="#222" stroke-width="0.6"/><line x1="527.40" y1="362.39" x2="526.20" y2="362.39" stroke="#222" stroke-width="0.6"/><line x1="527.40" y1="345.65" x2="526.20" y2="345.65" stroke="#222" stroke-width="0.6"/><line x1="527.40" y1="328.91" x2="526.20" y2="328.91" stroke="#222" stroke-width="0.6"/><line x1="527.40" y1="312.17" x2="526.20" y2="312.17" stroke="#222" stroke-width="0.6"/><text x="467.2" y="403.2" font-family="Liberation Sans, sans-serif" font-size="7.3" font-weight="bold" text-anchor="middle" fill="#222" textLength="59" lengthAdjust="spacingAndGlyphs">Wavelength (nm)</text><text x="389.4" y="342.4" font-family="Liberation Sans, sans-serif" font-size="7.1" font-weight="bold" text-anchor="middle" fill="#222" textLength="68.3" lengthAdjust="spacingAndGlyphs" transform="rotate(-90 389.4 342.4)">Responsivity (A/W)</text><text x="543.2" y="341.9" font-family="Liberation Sans, sans-serif" font-size="7" font-weight="bold" text-anchor="middle" fill="#222" textLength="59.7" lengthAdjust="spacingAndGlyphs" transform="rotate(-90 543.2 341.9)">Transmission (%)</text><polyline points="407.40,387.20 408.71,387.22 410.50,387.28 412.65,387.36 415.05,387.45 417.57,387.52 420.12,387.56 422.57,387.55 424.81,387.47 426.72,387.29 428.20,387.00 429.26,386.61 430.02,386.15 430.54,385.62 430.87,385.01 431.07,384.35 431.18,383.63 431.25,382.84 431.35,382.01 431.51,381.13 431.80,380.20 432.17,379.21 432.54,378.14 432.91,377.01 433.28,375.82 433.65,374.59 434.02,373.31 434.39,372.01 434.76,370.68 435.13,369.34 435.50,368.00 435.86,366.65 436.22,365.27 436.58,363.88 436.94,362.45 437.30,361.01 437.66,359.54 438.02,358.04 438.38,356.52 438.74,354.97 439.10,353.40 439.47,351.79 439.85,350.14 440.24,348.45 440.64,346.74 441.03,345.00 441.41,343.25 441.78,341.50 442.14,339.75 442.48,338.02 442.80,336.30 443.10,334.56 443.37,332.77 443.63,330.96 443.88,329.13 444.12,327.32 444.35,325.56 444.57,323.85 444.78,322.22 444.99,320.70 445.20,319.30 445.40,317.97 445.60,316.66 445.78,315.38 445.96,314.17 446.13,313.05 446.30,312.05 446.47,311.20 446.64,310.52 446.82,310.05 447.00,309.80 447.19,309.76 447.37,309.90 447.56,310.21 447.75,310.69 447.94,311.33 448.13,312.13 448.32,313.08 448.51,314.18 448.71,315.42 448.90,316.80 449.10,318.38 449.30,320.20 449.50,322.22 449.71,324.40 449.91,326.71 450.12,329.11 450.32,331.55 450.52,334.01 450.71,336.44 450.90,338.80 451.08,341.19 451.25,343.70 451.41,346.29 451.57,348.92 451.73,351.54 451.88,354.12 452.05,356.61 452.22,358.99 452.40,361.19 452.60,363.20 452.81,365.03 453.01,366.73 453.23,368.32 453.45,369.80 453.68,371.17 453.91,372.44 454.16,373.62 454.43,374.70 454.70,375.69 455.00,376.60 455.29,377.39 455.56,378.02 455.83,378.53 456.10,378.93 456.39,379.26 456.73,379.54 457.11,379.78 457.56,380.03 458.08,380.29 458.70,380.60 459.40,380.93 460.15,381.25 460.95,381.56 461.82,381.85 462.74,382.14 463.74,382.41 464.79,382.67 465.92,382.92 467.12,383.17 468.40,383.40 469.77,383.62 471.22,383.83 472.77,384.03 474.38,384.22 476.06,384.40 477.78,384.57 479.55,384.74 481.35,384.89 483.17,385.05 485.00,385.20 486.85,385.35 488.75,385.48 490.68,385.62 492.65,385.74 494.65,385.86 496.68,385.98 498.73,386.09 500.80,386.20 502.90,386.30 505.00,386.40 507.23,386.50 509.65,386.60 512.20,386.69 514.79,386.79 517.35,386.87 519.81,386.96 522.10,387.03 524.15,387.10 525.87,387.15 527.20,387.20" fill="none" stroke="#ff5a5a" stroke-width="1.3" stroke-linejoin="round" stroke-linecap="round"/><polyline points="441.60,322.20 440.64,322.96 439.35,324.03 437.81,325.31 436.11,326.70 434.34,328.11 432.57,329.44 430.89,330.60 429.40,331.50 428.05,332.17 426.75,332.71 425.50,333.15 424.27,333.47 423.08,333.71 421.91,333.85 420.75,333.91 419.60,333.90 418.41,333.75 417.16,333.44 415.91,333.00 414.69,332.50 413.54,331.98 412.52,331.49 411.66,331.08 411.00,330.80" fill="none" stroke="#ff5a5a" stroke-width="1.1" stroke-linejoin="round" stroke-linecap="round"/><polygon points="409.6,329.6 413.2,329 412.2,332.2" fill="#ff5a5a"/><polyline points="407.40,387.40 408.55,387.40 410.12,387.40 412.00,387.41 414.10,387.43 416.32,387.43 418.55,387.43 420.71,387.41 422.68,387.36 424.38,387.30 425.70,387.20 426.66,387.09 427.38,386.98 427.89,386.87 428.24,386.75 428.47,386.59 428.63,386.41 428.76,386.17 428.90,385.88 429.10,385.53 429.40,385.10 429.76,384.60 430.12,384.05 430.48,383.45 430.84,382.79 431.20,382.08 431.56,381.32 431.92,380.51 432.28,379.66 432.64,378.75 433.00,377.80 433.37,376.79 433.73,375.71 434.10,374.58 434.47,373.39 434.84,372.16 435.22,370.89 435.59,369.59 435.96,368.27 436.33,366.94 436.70,365.60 437.07,364.22 437.44,362.76 437.81,361.25 438.18,359.70 438.56,358.15 438.93,356.61 439.30,355.10 439.67,353.65 440.03,352.28 440.40,351.00 440.76,349.83 441.11,348.75 441.45,347.74 441.78,346.79 442.12,345.88 442.47,344.98 442.83,344.08 443.20,343.16 443.59,342.21 444.00,341.20 444.44,340.14 444.90,339.04 445.37,337.91 445.87,336.77 446.37,335.62 446.88,334.48 447.39,333.35 447.90,332.26 448.40,331.20 448.90,330.20 449.39,329.24 449.88,328.32 450.37,327.43 450.86,326.56 451.35,325.72 451.84,324.89 452.33,324.08 452.82,323.28 453.31,322.49 453.80,321.70 454.28,320.92 454.74,320.14 455.19,319.38 455.64,318.64 456.10,317.90 456.57,317.18 457.05,316.46 457.57,315.76 458.11,315.08 458.70,314.40 459.32,313.73 459.97,313.05 460.64,312.37 461.33,311.71 462.05,311.06 462.79,310.44 463.56,309.84 464.35,309.28 465.16,308.77 466.00,308.30 466.87,307.88 467.79,307.48 468.75,307.12 469.73,306.80 470.72,306.51 471.73,306.25 472.74,306.03 473.75,305.85 474.74,305.70 475.70,305.60 476.60,305.55 477.43,305.56 478.22,305.62 478.99,305.72 479.78,305.85 480.62,306.00 481.52,306.16 482.54,306.32 483.69,306.47 485.00,306.60 486.53,306.73 488.27,306.88 490.18,307.05 492.20,307.22 494.28,307.39 496.37,307.55 498.42,307.69 500.37,307.80 502.19,307.87 503.80,307.90 505.22,307.88 506.51,307.83 507.69,307.75 508.78,307.64 509.81,307.51 510.81,307.35 511.81,307.18 512.82,307.00 513.87,306.80 515.00,306.60 516.23,306.37 517.57,306.09 518.97,305.78 520.39,305.45 521.80,305.12 523.15,304.79 524.41,304.48 525.52,304.20 526.47,303.97 527.20,303.80" fill="none" stroke="#4a6fd0" stroke-width="1.3" stroke-linejoin="round" stroke-linecap="round"/><path d="M487.2,310.2 C495,316 503,321 511,319.8 C517,318.5 521,315.5 523.3,312.2" fill="none" stroke="#4a6fd0" stroke-width="1.1"/><polygon points="524.8,310.2 521.2,312.2 524.2,314.2" fill="#4a6fd0"/>
</svg>
</body></html>
